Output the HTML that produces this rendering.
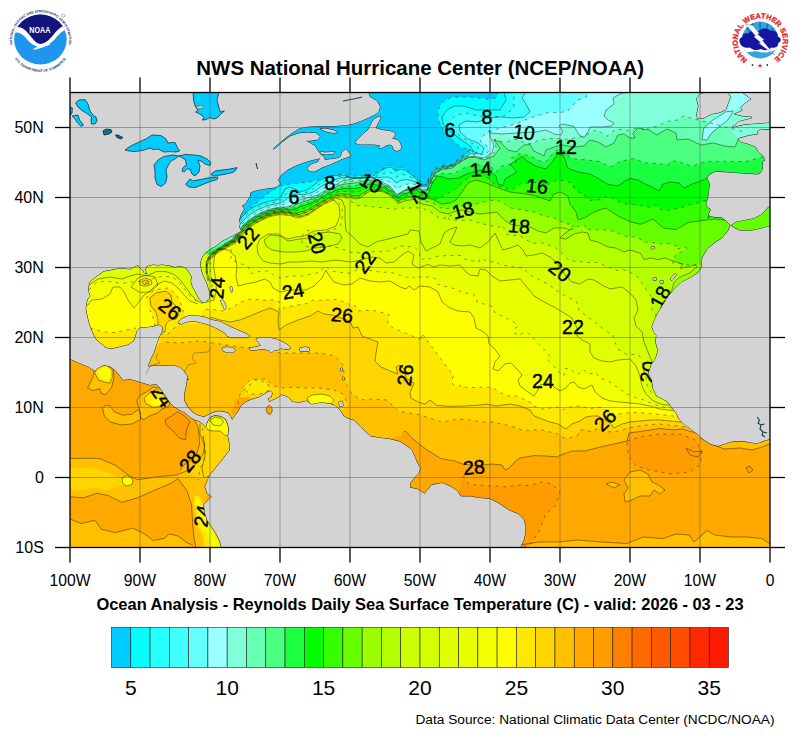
<!DOCTYPE html>
<html><head><meta charset="utf-8"><title>SST</title>
<style>
html,body{margin:0;padding:0;background:#fff;}
body{width:800px;height:737px;overflow:hidden;}
svg{display:block;font-family:"Liberation Sans",sans-serif;}
</style></head><body>
<svg width="800" height="737" viewBox="0 0 800 737">
<rect width="800" height="737" fill="#fff"/>
<defs><clipPath id="mapclip"><rect x="70.0" y="92.5" width="700.0" height="455.0"/></clipPath></defs>
<g clip-path="url(#mapclip)">
<rect x="70" y="92" width="701" height="456" fill="#ffd400"/>
<rect x="60" y="85" width="720" height="470" fill="#00ccff"/>
<path d="M20.0 226.0 L236.0 226.0 L239.0 220.0 L250.0 208.0 L260.0 200.0 L270.0 192.0 L280.0 186.0 L290.0 184.0 L300.0 183.0 L310.0 182.0 L320.0 179.0 L330.0 176.0 L342.0 174.0 L354.0 176.0 L366.0 176.0 L374.0 174.0 L382.0 169.0 L390.0 165.0 L396.0 170.0 L402.0 167.0 L408.0 171.0 L414.0 176.0 L420.0 181.0 L426.0 186.0 L430.0 175.0 L436.0 167.0 L444.0 165.0 L452.0 164.0 L458.0 159.0 L466.0 153.0 L470.0 149.0 L462.0 148.0 L452.0 140.0 L444.0 131.0 L438.0 120.0 L438.0 110.0 L442.0 102.0 L452.0 97.0 L470.0 97.0 L488.0 99.0 L496.0 98.0 L498.0 92.0 L498.0 80.0 L820.0 80.0 L820.0 620.0 L20.0 620.0Z" fill="#00ffff"/>
<path d="M20.0 226.0 L236.0 226.0 L238.6 220.7 L242.6 216.4 L246.8 212.2 L251.2 208.4 L256.5 205.8 L261.9 203.4 L267.5 201.7 L273.3 200.3 L279.0 199.2 L282.2 194.6 L284.8 189.3 L289.3 187.0 L294.6 188.9 L299.5 191.9 L305.3 190.6 L310.4 188.0 L314.9 184.2 L319.4 180.5 L324.8 178.1 L330.3 176.0 L336.2 175.5 L342.1 175.0 L347.8 176.4 L353.5 177.9 L359.4 178.0 L365.3 178.0 L371.0 176.7 L376.3 174.3 L381.0 170.8 L386.2 167.9 L391.1 167.1 L395.3 171.3 L400.1 169.3 L405.0 170.0 L409.8 173.5 L414.3 177.3 L418.8 181.0 L423.4 184.8 L426.8 184.7 L428.9 179.1 L431.5 173.9 L435.1 169.2 L440.2 166.9 L446.0 165.7 L451.9 165.0 L456.4 161.3 L461.1 157.7 L465.8 154.1 L470.0 150.0 L474.0 152.0 L470.0 146.0 L460.0 139.0 L450.0 131.0 L443.0 124.0 L442.0 117.0 L447.0 110.0 L454.0 106.0 L464.0 106.0 L476.0 110.0 L488.0 110.0 L500.0 110.0 L506.0 100.0 L504.0 92.0 L504.0 80.0 L820.0 80.0 L820.0 620.0 L20.0 620.0Z" fill="#26ffff"/>
<path d="M20.0 227.2 L236.5 227.2 L239.4 222.2 L243.4 218.0 L247.6 213.9 L252.1 210.3 L257.3 207.6 L262.6 205.3 L268.2 203.6 L273.8 202.2 L279.6 201.1 L283.4 197.7 L286.6 193.3 L290.9 190.6 L296.2 191.5 L301.2 193.4 L306.9 192.2 L312.1 189.8 L316.7 186.3 L321.4 182.7 L326.6 180.3 L332.0 178.0 L337.6 176.9 L343.4 176.3 L349.1 177.1 L354.7 177.9 L360.6 177.9 L366.4 177.8 L372.0 177.3 L377.3 176.0 L382.1 174.0 L387.2 172.5 L391.8 173.0 L395.8 177.2 L400.5 174.8 L405.4 174.8 L410.4 176.9 L415.1 179.7 L419.6 183.3 L424.3 186.0 L427.5 184.5 L429.5 179.1 L432.2 174.0 L435.8 169.5 L441.0 167.3 L446.7 166.2 L452.4 165.1 L457.0 161.5 L461.7 158.1 L466.5 154.8 L471.0 151.5 L478.0 153.0 L478.0 147.0 L470.0 142.0 L460.0 136.0 L452.0 128.0 L450.0 121.0 L456.0 115.0 L466.0 113.0 L478.0 116.0 L490.0 117.0 L504.0 116.0 L514.0 108.0 L514.0 92.0 L514.0 80.0 L820.0 80.0 L820.0 620.0 L20.0 620.0Z" fill="#40ffff"/>
<path d="M20.0 228.5 L237.0 228.5 L240.1 223.7 L244.1 219.6 L248.4 215.6 L253.0 212.3 L258.0 209.5 L263.4 207.3 L268.8 205.4 L274.4 204.1 L280.1 203.1 L284.5 200.8 L288.3 197.3 L292.5 194.1 L297.8 194.2 L303.0 194.9 L308.6 193.7 L313.9 191.6 L318.6 188.3 L323.3 185.0 L328.5 182.5 L333.7 180.0 L339.0 178.3 L344.7 177.5 L350.3 177.7 L356.0 177.9 L361.7 177.7 L367.5 177.5 L373.0 177.8 L378.2 177.7 L383.1 177.2 L388.2 177.1 L392.4 178.9 L396.2 183.1 L400.9 180.4 L405.9 179.5 L410.9 180.4 L415.8 182.1 L420.4 185.5 L425.3 187.1 L428.1 184.4 L430.2 179.1 L432.9 174.0 L436.6 169.7 L441.8 167.6 L447.5 166.6 L453.0 165.3 L457.5 161.8 L462.3 158.5 L467.1 155.5 L472.0 153.0 L482.0 154.0 L484.0 148.0 L478.0 143.0 L468.0 139.0 L460.0 132.0 L459.0 125.0 L466.0 121.0 L478.0 122.0 L487.0 118.0 L500.0 117.0 L512.0 118.0 L524.0 117.0 L530.0 112.0 L526.0 104.0 L522.0 98.0 L526.0 92.0 L526.0 80.0 L820.0 80.0 L820.0 620.0 L20.0 620.0Z" fill="#66ffff"/>
<path d="M20.0 229.8 L237.5 229.8 L240.9 225.2 L244.9 221.1 L249.1 217.3 L253.9 214.2 L258.8 211.4 L264.1 209.2 L269.4 207.2 L275.0 206.0 L280.6 205.0 L285.7 203.9 L290.0 201.3 L294.1 197.7 L299.4 196.8 L304.7 196.4 L310.3 195.3 L315.6 193.4 L320.4 190.3 L325.2 187.2 L330.3 184.7 L335.3 182.1 L340.4 179.7 L346.0 178.8 L351.6 178.3 L357.2 177.9 L362.9 177.6 L368.6 177.3 L374.0 178.3 L379.2 179.4 L384.2 180.4 L389.2 181.7 L393.0 184.8 L396.7 189.0 L401.4 186.0 L406.3 184.3 L411.5 183.8 L416.6 184.5 L421.2 187.8 L426.3 188.2 L428.7 184.3 L430.9 179.0 L433.6 174.0 L437.3 170.0 L442.6 167.9 L448.2 167.0 L453.5 165.4 L458.1 162.0 L462.8 158.9 L467.8 156.1 L473.0 154.5 L486.0 155.0 L489.0 150.0 L486.0 145.0 L480.0 141.0 L484.0 135.0 L492.0 131.0 L500.0 128.0 L515.0 124.0 L530.0 118.0 L540.0 115.0 L550.0 112.0 L558.0 113.0 L568.0 111.0 L572.0 106.0 L578.0 100.0 L586.0 97.0 L588.0 92.0 L588.0 80.0 L820.0 80.0 L820.0 620.0 L20.0 620.0Z" fill="#99ffff"/>
<path d="M20.0 231.0 L238.0 231.0 L241.6 226.7 L245.6 222.7 L249.9 219.1 L254.8 216.1 L259.6 213.2 L264.8 211.1 L270.1 209.0 L275.6 207.9 L281.2 207.0 L286.8 207.0 L291.7 205.3 L295.7 201.3 L301.1 199.5 L306.5 197.9 L312.0 196.8 L317.4 195.2 L322.2 192.3 L327.1 189.5 L332.1 186.9 L337.0 184.1 L341.8 181.1 L347.3 180.0 L352.9 179.0 L358.4 178.0 L364.1 177.5 L369.7 177.0 L375.0 178.9 L380.2 181.1 L385.2 183.6 L390.2 186.3 L393.7 190.7 L397.2 194.9 L401.8 191.6 L406.8 189.1 L412.1 187.3 L417.3 186.9 L422.0 190.0 L427.2 189.4 L429.3 184.2 L431.6 179.0 L434.3 174.0 L438.0 170.2 L443.3 168.3 L448.9 167.4 L454.0 165.5 L458.6 162.3 L463.4 159.2 L468.4 156.8 L474.0 156.0 L484.0 158.0 L492.0 153.0 L494.0 145.0 L490.0 137.0 L489.0 130.0 L490.0 133.0 L502.0 134.0 L516.0 133.0 L536.0 132.0 L546.0 130.0 L554.0 134.0 L561.0 135.0 L563.0 131.0 L559.0 126.0 L562.0 124.0 L574.0 126.4 L579.0 135.0 L584.0 137.6 L588.0 132.0 L590.0 127.0 L602.0 127.0 L612.0 126.0 L614.0 123.0 L608.0 120.0 L604.0 116.0 L606.0 110.0 L614.0 104.0 L613.0 98.0 L620.0 94.0 L628.0 92.0 L628.0 80.0 L820.0 80.0 L820.0 620.0 L20.0 620.0Z" fill="#80ffd9"/>
<path d="M20.0 238.6 L232.6 238.6 L238.2 231.4 L242.8 226.0 L248.0 221.3 L253.8 217.3 L259.9 213.8 L266.4 211.0 L273.1 208.9 L280.1 207.8 L287.1 207.6 L293.4 205.1 L299.4 201.5 L306.2 199.5 L313.0 197.8 L319.5 195.0 L325.5 191.4 L331.8 188.3 L338.0 184.9 L344.5 182.3 L351.5 181.3 L358.5 180.2 L365.5 179.2 L372.4 179.3 L379.0 181.7 L385.4 184.7 L391.2 188.5 L395.5 194.0 L400.7 193.3 L406.9 190.0 L413.6 187.8 L419.7 189.5 L426.3 191.0 L429.4 185.1 L432.3 178.7 L435.7 172.5 L442.0 169.7 L448.9 168.4 L455.2 165.7 L461.0 161.7 L467.0 158.0 L474.0 157.0 L484.0 159.0 L489.2 156.5 L493.8 153.2 L496.5 148.2 L494.7 143.2 L493.8 139.9 L495.9 139.2 L498.1 139.8 L502.8 142.2 L508.1 141.6 L513.0 139.5 L518.7 139.3 L522.9 142.0 L528.2 143.4 L533.2 143.5 L537.4 140.8 L543.0 139.6 L548.7 138.6 L554.4 138.4 L560.1 138.5 L565.6 139.3 L570.7 138.8 L575.8 137.6 L580.4 136.9 L582.1 136.7 L585.5 134.8 L590.4 133.0 L594.3 130.5 L599.6 131.0 L603.6 135.0 L607.3 136.1 L609.7 134.0 L613.9 130.8 L618.3 129.2 L623.1 129.8 L628.4 130.4 L633.8 128.7 L639.2 128.5 L644.3 129.6 L644.8 131.0 L646.0 129.6 L647.5 128.3 L651.0 127.4 L655.6 126.5 L660.9 124.5 L664.8 122.5 L668.5 121.4 L673.9 120.6 L679.3 119.7 L683.0 116.0 L745.0 132.0 L810.0 132.0 L820.0 132.0 L820.0 620.0 L20.0 620.0Z" fill="#66ffb3"/>
<path d="M20.0 244.0 L224.0 244.0 L233.0 239.0 L238.4 231.7 L241.2 228.4 L244.1 225.2 L247.4 222.4 L250.8 219.7 L254.5 217.5 L258.2 215.3 L262.0 213.3 L266.0 211.7 L270.1 210.2 L274.3 209.2 L278.5 208.4 L282.8 208.2 L287.1 208.3 L291.2 207.9 L294.5 205.7 L298.0 203.5 L302.1 202.3 L306.2 201.0 L310.3 199.7 L314.4 198.6 L318.3 196.8 L322.0 194.6 L325.7 192.4 L329.6 190.5 L333.5 188.6 L337.3 186.6 L341.0 184.9 L345.1 184.0 L349.3 183.6 L353.6 183.2 L357.7 182.5 L361.9 181.6 L366.0 180.8 L370.1 180.1 L374.2 181.3 L378.3 182.5 L382.3 184.1 L386.1 186.1 L390.0 188.0 L397.0 196.0 L404.0 191.0 L410.0 189.0 L416.0 187.0 L422.0 191.0 L427.0 191.0 L431.0 181.0 L436.0 172.0 L444.0 169.0 L452.0 168.0 L459.0 163.0 L467.0 158.0 L474.0 157.0 L484.0 160.0 L494.0 156.0 L500.0 148.0 L494.0 140.0 L500.0 142.0 L508.0 150.0 L516.0 152.0 L524.0 145.0 L530.0 144.4 L534.0 151.0 L544.0 156.0 L546.0 150.0 L554.0 147.0 L562.0 145.0 L574.0 147.0 L584.0 146.0 L590.0 140.0 L598.0 142.0 L606.0 147.0 L614.0 143.0 L618.0 135.0 L624.0 134.0 L630.0 138.0 L635.0 138.0 L633.0 133.0 L638.0 128.0 L649.0 130.0 L657.0 135.0 L667.0 129.0 L676.0 133.0 L677.0 140.0 L688.0 139.0 L701.0 145.0 L713.5 143.0 L724.0 146.0 L735.0 147.0 L738.0 140.0 L760.0 138.0 L810.0 138.0 L820.0 138.0 L820.0 620.0 L20.0 620.0Z" fill="#4dff80"/>
<path d="M20.0 249.4 L216.4 249.4 L218.2 248.2 L219.9 246.9 L222.2 245.7 L224.4 244.4 L228.9 241.9 L233.4 239.4 L236.0 235.8 L238.7 232.1 L241.5 228.9 L244.4 225.7 L247.7 223.0 L251.1 220.2 L254.8 218.0 L258.5 215.9 L262.4 213.9 L266.3 212.3 L270.4 210.8 L274.6 209.9 L278.8 209.1 L283.1 208.9 L287.4 209.1 L291.5 208.9 L294.1 207.8 L297.6 205.9 L302.6 204.1 L306.7 202.7 L310.7 201.3 L314.7 199.9 L318.5 198.1 L322.2 195.9 L325.9 193.7 L329.8 191.8 L333.7 190.0 L337.5 188.1 L341.4 186.8 L345.5 186.2 L349.7 186.0 L353.9 185.9 L358.0 185.2 L362.0 184.1 L366.0 183.0 L370.1 182.0 L374.2 183.0 L378.3 184.0 L383.2 185.9 L387.1 187.8 L390.5 189.8 L394.2 194.0 L397.0 197.0 L400.1 195.0 L403.3 193.0 L410.5 190.5 L417.2 189.0 L422.0 192.5 L427.5 192.5 L429.1 188.6 L430.9 183.9 L433.6 179.0 L435.7 175.5 L441.9 173.6 L447.6 173.8 L452.5 173.2 L455.0 173.0 L458.6 171.0 L463.7 168.1 L467.2 166.6 L477.3 164.9 L481.2 164.8 L484.5 165.5 L487.7 165.7 L492.1 167.1 L492.6 169.1 L493.1 171.1 L497.1 171.4 L499.5 167.5 L501.5 166.3 L514.5 163.2 L516.5 162.0 L514.8 160.1 L511.4 157.8 L515.0 156.9 L517.0 155.5 L519.6 153.7 L530.5 156.0 L534.2 158.1 L538.6 160.5 L542.5 161.8 L545.0 162.5 L546.8 160.5 L548.5 158.5 L554.0 152.4 L556.8 150.1 L565.2 151.1 L566.6 153.1 L568.0 155.2 L569.3 157.2 L573.4 158.5 L576.8 159.4 L580.5 159.6 L585.0 159.7 L587.0 160.0 L600.0 161.6 L602.0 162.7 L604.5 164.2 L607.0 165.7 L609.5 166.1 L612.0 166.5 L614.0 165.1 L617.6 162.9 L621.2 161.1 L633.7 158.6 L636.5 159.0 L638.2 160.0 L640.0 161.0 L643.5 162.5 L666.2 164.5 L668.0 165.5 L669.0 163.8 L670.0 162.0 L673.5 161.0 L675.8 161.2 L678.0 161.5 L692.5 166.5 L694.5 165.5 L696.5 164.5 L698.8 163.8 L701.0 163.0 L705.3 161.4 L716.7 161.4 L720.4 161.6 L722.6 161.4 L727.2 161.4 L731.7 161.4 L734.5 161.5 L736.5 161.5 L738.5 161.5 L740.5 161.5 L742.5 161.5 L744.5 161.5 L746.5 161.5 L761.8 157.0 L766.0 157.0 L770.3 157.0 L773.8 157.0 L778.1 157.0 L782.4 157.0 L785.9 157.0 L790.2 157.0 L793.7 157.0 L797.9 157.0 L802.2 157.0 L805.7 157.0 L810.0 157.0 L820.0 157.0 L820.0 620.0 L20.0 620.0Z" fill="#1aff40"/>
<path d="M20.0 254.8 L208.8 254.8 L215.8 249.8 L224.8 244.8 L233.8 239.8 L238.9 232.6 L241.8 229.4 L244.7 226.2 L248.0 223.5 L251.4 220.8 L255.1 218.6 L258.8 216.4 L262.7 214.5 L266.6 212.9 L270.7 211.4 L274.9 210.5 L279.1 209.7 L283.4 209.7 L287.7 209.9 L291.8 209.9 L295.3 208.8 L299.0 207.1 L303.1 205.9 L307.1 204.5 L311.1 202.9 L315.0 201.3 L318.8 199.4 L322.4 197.1 L326.2 194.9 L330.0 193.1 L334.0 191.3 L337.8 189.6 L341.7 188.7 L345.8 188.3 L350.0 188.4 L354.2 188.5 L358.3 187.9 L362.2 186.6 L366.1 185.2 L370.0 183.9 L374.1 184.6 L378.3 185.5 L382.3 186.6 L386.1 188.6 L390.0 190.5 L397.0 198.0 L404.0 194.0 L411.0 192.0 L417.0 190.0 L422.0 194.0 L428.0 194.0 L432.0 184.0 L437.0 176.0 L443.0 177.0 L448.0 179.0 L458.0 178.0 L467.0 174.0 L480.0 170.0 L490.0 172.0 L496.0 176.0 L498.0 184.0 L503.0 185.6 L505.0 179.0 L517.0 172.0 L510.0 164.4 L522.0 156.4 L527.0 161.0 L536.0 166.4 L546.0 169.0 L553.0 161.0 L558.0 153.6 L564.0 156.4 L567.6 168.0 L578.0 172.0 L590.0 174.0 L598.0 178.4 L608.0 184.4 L618.0 186.0 L626.0 180.4 L630.0 178.4 L638.0 180.0 L645.0 184.0 L652.0 187.0 L659.0 191.0 L663.0 184.0 L670.0 182.0 L679.0 183.0 L684.0 188.0 L692.0 184.0 L701.0 181.0 L708.0 178.0 L730.0 176.0 L810.0 176.0 L820.0 176.0 L820.0 620.0 L20.0 620.0Z" fill="#00ff00"/>
<path d="M20.0 258.8 L207.3 258.8 L208.3 257.0 L209.3 255.3 L213.1 252.5 L216.3 250.3 L220.8 247.8 L225.3 245.3 L229.8 242.8 L234.3 240.3 L236.5 237.1 L239.2 233.2 L242.2 230.0 L245.2 227.0 L248.4 224.2 L251.8 221.5 L255.5 219.4 L259.3 217.2 L263.1 215.4 L267.1 213.7 L271.1 212.2 L275.3 211.4 L279.5 210.6 L283.8 210.7 L288.1 211.0 L292.2 211.4 L295.9 211.0 L299.7 209.6 L303.8 208.4 L307.8 206.9 L311.6 205.0 L315.4 203.2 L319.1 201.1 L321.8 199.4 L325.5 197.3 L330.4 195.0 L334.3 193.2 L338.2 191.7 L342.2 191.4 L347.4 191.4 L351.5 191.8 L354.6 192.3 L358.6 191.8 L361.4 190.4 L365.2 188.6 L368.9 186.9 L374.0 187.0 L378.2 187.6 L383.3 188.9 L387.1 190.8 L390.6 192.9 L394.9 197.1 L397.5 199.5 L400.9 197.7 L405.9 195.2 L409.6 194.5 L413.2 193.8 L421.0 195.5 L423.8 195.8 L428.0 196.0 L431.0 197.0 L433.0 198.0 L435.0 199.0 L437.0 198.8 L439.0 198.5 L455.3 189.2 L458.5 187.0 L460.0 185.0 L463.0 182.1 L466.0 179.2 L470.9 177.3 L475.1 175.9 L482.2 176.1 L489.5 178.5 L494.5 184.5 L497.0 185.5 L501.0 186.9 L504.2 188.0 L506.5 188.8 L508.5 189.1 L510.5 189.3 L512.5 189.6 L520.2 183.8 L524.0 183.5 L539.3 182.1 L543.3 183.3 L545.7 184.2 L548.0 185.0 L549.0 183.2 L550.0 181.5 L564.5 180.3 L568.8 182.1 L573.0 184.0 L573.5 186.0 L574.0 188.0 L576.2 190.1 L579.2 192.4 L588.2 197.6 L590.1 200.5 L592.9 200.2 L596.3 200.3 L599.0 199.4 L601.0 198.2 L603.0 197.5 L605.0 196.9 L607.8 196.3 L612.3 198.1 L616.0 199.7 L618.0 201.0 L620.0 201.9 L622.0 202.9 L624.0 203.8 L645.0 205.8 L649.8 207.7 L651.9 206.8 L653.9 205.9 L656.0 205.0 L657.8 206.5 L659.5 208.0 L661.2 209.5 L663.3 209.8 L665.4 210.0 L667.5 210.3 L682.0 207.6 L684.0 206.5 L686.0 205.3 L688.1 205.0 L690.2 204.7 L692.2 204.4 L697.0 202.9 L704.0 200.8 L707.9 200.0 L717.9 198.4 L722.8 198.4 L728.7 200.4 L734.4 198.8 L737.9 197.4 L742.0 196.0 L745.3 195.0 L749.3 194.0 L752.6 193.0 L755.8 192.0 L759.8 191.0 L763.1 190.0 L766.4 189.0 L769.6 188.0 L773.9 187.8 L778.2 187.5 L781.7 187.2 L785.9 187.0 L790.2 186.8 L793.7 186.5 L798.0 186.2 L802.2 186.0 L805.7 185.8 L810.0 185.5 L820.0 185.5 L820.0 620.0 L20.0 620.0Z" fill="#33ff00"/>
<path d="M20.0 262.7 L205.7 262.7 L209.7 255.7 L216.7 250.7 L225.7 245.7 L234.7 240.7 L239.6 233.8 L242.6 230.7 L245.6 227.7 L248.9 224.9 L252.2 222.3 L256.0 220.1 L259.7 218.0 L263.5 216.2 L267.5 214.5 L271.5 213.1 L275.7 212.3 L279.9 211.5 L284.2 211.8 L288.5 212.1 L292.6 212.8 L296.4 213.2 L300.4 212.2 L304.5 210.9 L308.4 209.4 L312.1 207.2 L315.7 205.1 L319.4 202.9 L323.0 200.6 L326.7 198.5 L330.7 196.8 L334.6 195.1 L338.6 193.8 L342.6 194.0 L346.8 194.4 L350.9 195.2 L355.1 196.0 L359.0 195.6 L362.6 193.5 L366.2 191.3 L369.8 189.2 L373.9 189.3 L378.2 189.6 L382.3 190.2 L386.2 192.1 L390.0 194.0 L398.0 201.0 L406.0 197.0 L414.0 196.0 L420.0 197.0 L428.0 198.0 L434.0 200.0 L442.0 204.0 L450.0 203.0 L456.0 200.0 L462.0 192.0 L468.0 183.0 L476.0 180.0 L486.0 183.0 L496.0 187.0 L510.0 192.0 L526.0 194.0 L536.0 196.0 L550.0 201.0 L554.0 194.0 L560.0 192.0 L568.0 196.0 L570.0 204.0 L576.0 212.0 L578.0 220.0 L586.0 217.0 L594.0 212.0 L606.0 208.0 L618.0 216.0 L630.0 221.7 L640.6 224.3 L653.0 219.0 L663.5 228.0 L676.0 229.6 L688.0 222.6 L700.5 220.8 L714.7 219.0 L725.0 220.0 L730.5 224.5 L742.0 216.0 L770.0 200.0 L810.0 195.0 L820.0 195.0 L820.0 620.0 L20.0 620.0Z" fill="#66ff00"/>
<path d="M20.0 267.6 L206.1 267.6 L206.1 265.4 L206.1 263.1 L207.9 259.9 L210.1 256.1 L213.9 253.3 L217.1 251.1 L221.6 248.6 L226.1 246.1 L230.6 243.6 L235.1 241.1 L237.2 237.9 L239.7 234.0 L242.7 231.0 L245.7 227.9 L249.0 225.2 L252.4 222.5 L256.1 220.4 L259.8 218.3 L263.7 216.5 L267.6 214.8 L271.7 213.4 L275.9 212.6 L280.1 211.8 L284.3 212.2 L288.6 212.5 L292.7 213.3 L296.7 214.0 L300.7 213.1 L304.8 211.9 L308.7 210.3 L312.3 208.0 L315.9 205.8 L319.5 203.5 L323.1 201.3 L326.9 199.2 L330.8 197.5 L334.7 195.8 L338.7 194.6 L342.8 195.0 L347.0 195.5 L351.1 196.4 L355.2 197.4 L359.1 197.0 L361.8 195.3 L365.3 193.0 L368.8 190.7 L373.9 190.2 L378.2 190.4 L382.3 190.8 L386.2 192.7 L390.6 195.1 L394.3 198.7 L398.0 202.2 L401.6 200.7 L405.2 199.2 L409.6 198.3 L414.0 197.8 L418.2 199.2 L422.6 200.7 L428.2 201.8 L433.0 203.0 L437.4 205.7 L441.0 208.0 L443.8 208.4 L447.4 208.7 L451.0 207.8 L453.8 206.6 L459.5 205.0 L463.0 206.0 L466.0 205.8 L469.0 205.7 L490.5 200.2 L494.6 200.6 L501.2 201.2 L506.0 205.0 L508.0 206.5 L511.6 208.2 L517.3 209.1 L522.2 209.9 L528.0 210.8 L535.3 212.3 L539.7 214.2 L543.2 215.7 L546.0 216.5 L548.0 217.0 L550.0 215.8 L566.0 224.0 L568.5 224.0 L571.0 224.0 L574.0 225.0 L571.0 227.0 L569.0 229.0 L572.0 229.5 L574.0 228.2 L576.0 227.0 L578.0 226.5 L580.0 226.0 L585.4 225.6 L585.6 229.4 L589.2 229.3 L592.0 229.5 L610.5 230.2 L615.2 232.6 L618.8 233.5 L622.2 234.5 L625.0 235.8 L627.8 237.0 L633.0 236.6 L638.0 238.0 L640.6 238.9 L642.3 242.0 L657.2 242.9 L660.8 243.8 L666.6 243.2 L671.2 244.4 L675.0 245.5 L677.2 246.1 L679.5 246.8 L678.0 249.0 L680.0 248.6 L682.0 248.1 L685.5 247.3 L686.5 248.1 L684.8 249.7 L683.0 251.2 L680.4 252.3 L677.7 253.4 L675.0 256.1 L674.0 259.6 L672.4 262.7 L674.6 263.0 L676.9 263.3 L679.1 263.6 L681.3 263.9 L683.5 264.2 L685.8 264.5 L688.0 264.8 L690.0 264.8 L692.1 264.8 L721.4 262.2 L723.4 262.2 L725.4 262.2 L727.5 262.2 L729.5 262.2 L731.5 262.2 L733.6 262.2 L735.6 262.2 L737.7 262.2 L739.7 262.2 L741.7 262.2 L743.8 262.2 L745.8 262.2 L747.8 262.2 L749.9 262.2 L751.9 262.2 L754.0 262.2 L756.0 262.2 L758.0 262.2 L761.3 261.3 L764.7 260.4 L772.6 256.5 L776.6 255.3 L799.5 248.6 L803.8 248.3 L820.0 248.3 L820.0 620.0 L20.0 620.0Z" fill="#99ff00"/>
<path d="M20.0 272.5 L206.5 272.5 L206.5 263.5 L210.5 256.5 L217.5 251.5 L226.5 246.5 L235.5 241.5 L239.9 234.3 L242.9 231.2 L245.9 228.2 L249.2 225.4 L252.5 222.8 L256.3 220.7 L260.0 218.6 L263.9 216.8 L267.8 215.1 L271.8 213.8 L276.0 212.9 L280.2 212.2 L284.5 212.5 L288.7 212.9 L292.9 213.9 L296.9 214.8 L300.9 214.0 L305.0 212.8 L308.9 211.2 L312.5 208.8 L316.0 206.5 L319.6 204.2 L323.3 201.9 L327.0 199.8 L330.9 198.2 L334.9 196.5 L338.8 195.4 L343.0 196.0 L347.2 196.7 L351.3 197.7 L355.4 198.8 L359.2 198.4 L362.7 196.0 L366.2 193.6 L369.7 191.2 L373.9 191.1 L378.1 191.2 L382.3 191.5 L386.2 193.4 L390.0 195.3 L398.0 203.5 L406.0 200.5 L414.0 199.5 L422.0 204.0 L432.0 206.0 L440.0 212.0 L448.0 214.0 L456.0 211.0 L463.0 210.0 L470.0 212.0 L480.0 214.0 L490.0 213.0 L497.0 212.0 L502.0 218.0 L510.0 224.0 L520.0 226.0 L530.0 227.0 L538.0 231.0 L546.0 233.0 L554.0 228.0 L564.0 228.0 L570.0 230.0 L564.0 234.0 L560.0 238.0 L566.0 239.0 L574.0 234.0 L582.0 232.0 L588.0 233.0 L590.0 240.0 L598.0 242.0 L608.0 247.0 L616.0 248.0 L624.0 252.0 L630.0 250.0 L640.6 253.4 L644.0 259.6 L651.0 257.9 L658.0 259.6 L665.0 257.9 L674.0 261.4 L683.0 264.0 L680.0 268.4 L688.0 266.7 L695.0 265.0 L697.0 266.7 L690.0 272.8 L679.4 277.3 L674.0 282.5 L672.0 289.6 L668.8 295.8 L700.0 300.0 L810.0 300.0 L820.0 300.0 L820.0 620.0 L20.0 620.0Z" fill="#b3ff00"/>
<path d="M20.0 274.0 L207.1 274.0 L206.9 273.3 L206.6 272.6 L206.6 269.4 L206.6 264.9 L208.3 260.7 L210.6 256.6 L214.7 253.7 L217.6 251.6 L222.1 249.1 L226.6 246.6 L231.1 244.1 L235.6 241.6 L237.4 238.6 L239.9 234.4 L242.9 231.3 L246.0 228.3 L249.3 225.6 L252.6 222.9 L256.4 220.9 L260.1 218.8 L264.0 217.0 L267.9 215.2 L271.9 213.9 L276.1 213.1 L280.3 212.3 L284.6 212.7 L288.8 213.1 L292.9 214.0 L297.0 215.1 L301.0 214.3 L305.1 213.0 L309.0 211.4 L312.6 209.1 L316.1 206.7 L319.7 204.4 L323.3 202.1 L327.0 200.0 L331.0 198.4 L334.9 196.7 L342.8 196.6 L344.8 197.5 L346.8 198.4 L348.6 199.4 L348.6 200.0 L350.3 201.0 L352.2 202.3 L354.0 203.6 L354.9 204.4 L355.5 205.0 L356.1 205.6 L360.0 205.5 L360.6 205.7 L361.2 205.3 L394.7 209.3 L395.3 209.1 L395.9 209.0 L396.5 208.8 L397.1 208.7 L397.7 208.5 L398.3 208.4 L398.9 208.2 L399.5 208.1 L420.2 207.9 L420.9 208.0 L423.0 208.3 L435.9 214.8 L437.2 216.5 L437.5 217.2 L437.9 217.8 L440.2 217.7 L443.5 218.1 L446.8 218.5 L447.1 217.7 L447.4 216.9 L448.3 216.2 L452.3 215.4 L449.0 217.4 L448.6 217.8 L448.3 218.2 L449.0 219.3 L449.9 220.0 L452.2 220.2 L471.6 220.2 L475.0 221.3 L478.6 222.9 L480.0 224.2 L482.4 223.8 L499.0 227.5 L500.0 226.3 L501.0 224.9 L503.2 227.6 L505.4 230.4 L506.0 232.0 L507.1 234.8 L512.8 235.3 L516.3 235.5 L519.0 235.3 L524.0 238.2 L532.0 243.5 L534.0 243.2 L536.8 243.2 L540.4 243.1 L544.0 243.0 L546.0 244.0 L555.0 247.5 L558.0 250.0 L562.2 253.4 L564.5 255.5 L566.0 257.5 L567.5 259.0 L569.0 260.5 L571.0 261.0 L585.8 262.2 L593.1 262.8 L596.6 262.3 L601.0 263.5 L603.0 264.8 L605.0 266.0 L615.0 269.5 L617.0 270.5 L619.0 270.2 L621.0 269.8 L623.0 269.5 L635.0 274.8 L637.0 276.3 L650.9 296.1 L652.4 297.9 L652.9 300.4 L653.4 302.9 L652.4 304.9 L651.4 306.9 L651.9 308.9 L652.4 310.9 L653.9 312.4 L655.4 313.9 L655.9 316.4 L656.4 318.9 L657.4 321.4 L658.4 323.9 L659.4 326.4 L660.4 328.9 L659.9 331.4 L659.4 333.9 L660.1 335.9 L660.9 337.9 L660.4 340.9 L662.4 342.4 L666.7 344.2 L670.3 344.6 L674.6 345.0 L678.2 345.4 L682.5 345.9 L686.1 346.2 L690.4 346.7 L694.0 347.1 L696.0 347.2 L698.0 347.4 L700.0 347.5 L704.3 347.5 L707.8 347.5 L712.1 347.5 L716.4 347.5 L720.7 347.5 L724.3 347.5 L728.6 347.5 L732.9 347.5 L736.4 347.5 L740.7 347.5 L745.0 347.5 L748.6 347.5 L752.9 347.5 L757.1 347.5 L761.4 347.5 L765.0 347.5 L769.3 347.5 L773.6 347.5 L777.1 347.5 L781.4 347.5 L785.7 347.5 L789.3 347.5 L793.6 347.5 L797.9 347.5 L802.2 347.5 L805.7 347.5 L810.0 347.5 L820.0 347.5 L820.0 620.0 L20.0 620.0Z" fill="#ccff00"/>
<path d="M20.0 282.4 L210.4 282.4 L207.4 273.4 L207.4 264.4 L211.4 257.4 L218.4 252.4 L227.4 247.4 L236.4 242.4 L240.4 235.1 L243.4 232.1 L246.5 229.1 L249.7 226.3 L253.1 223.7 L256.8 221.6 L260.6 219.6 L264.4 217.7 L268.4 216.0 L272.4 214.7 L276.6 213.9 L280.8 213.1 L285.0 213.6 L289.3 214.0 L293.4 215.0 L297.5 216.3 L301.6 215.6 L305.7 214.4 L309.6 212.8 L313.1 210.3 L316.6 207.9 L320.1 205.5 L323.8 203.2 L327.5 201.1 L331.4 199.5 L335.4 197.9 L342.0 200.0 L345.0 208.0 L345.0 220.0 L346.0 231.0 L352.0 236.0 L360.0 244.0 L368.0 247.0 L376.0 242.0 L388.0 239.0 L400.0 236.0 L408.0 234.0 L410.0 230.0 L419.0 231.0 L421.0 242.0 L426.0 251.0 L432.0 248.0 L440.0 244.0 L444.0 233.0 L450.0 229.0 L457.0 227.0 L454.0 234.0 L450.0 242.0 L454.0 245.0 L462.0 246.0 L470.0 245.0 L480.0 248.0 L488.0 242.0 L495.0 233.0 L500.0 244.0 L503.0 250.0 L510.0 248.0 L518.0 245.0 L523.0 250.0 L526.0 256.0 L534.0 255.0 L542.0 253.0 L550.0 257.0 L556.0 262.0 L560.0 268.0 L566.0 276.0 L572.0 282.0 L580.0 284.0 L588.0 279.0 L594.0 280.0 L602.0 285.0 L610.0 289.0 L622.0 287.0 L630.0 293.0 L636.0 300.0 L638.0 310.0 L634.0 318.0 L636.0 326.0 L642.0 332.0 L644.0 342.0 L648.0 352.0 L652.0 362.0 L650.0 372.0 L653.0 380.0 L652.0 386.0 L660.0 392.0 L700.0 395.0 L810.0 395.0 L820.0 395.0 L820.0 620.0 L20.0 620.0Z" fill="#d4ff00"/>
<path d="M20.0 280.9 L208.9 280.9 L207.7 276.2 L206.7 270.7 L206.8 266.2 L207.3 262.5 L210.9 256.4 L214.8 253.7 L217.9 251.4 L222.4 248.9 L226.9 246.4 L231.3 243.9 L236.1 240.7 L240.7 235.6 L243.7 232.5 L246.7 229.5 L253.1 224.4 L257.2 222.1 L262.3 219.3 L266.2 217.6 L270.2 215.9 L274.7 214.9 L280.4 213.8 L285.0 214.3 L289.6 214.7 L293.7 215.9 L297.8 217.2 L303.3 215.8 L307.8 214.3 L311.3 212.1 L314.8 209.7 L318.2 207.3 L322.0 204.9 L325.8 202.6 L329.7 200.9 L333.7 199.3 L341.4 205.4 L342.2 211.0 L342.5 215.8 L341.5 220.5 L340.7 225.4 L338.3 227.1 L335.9 228.9 L333.9 229.1 L331.9 229.3 L329.9 229.4 L327.4 231.5 L325.0 233.5 L323.0 233.8 L321.0 234.0 L319.0 234.5 L317.0 235.0 L314.5 233.8 L311.9 230.9 L309.4 230.9 L306.8 230.1 L304.9 233.0 L303.0 235.0 L301.5 238.5 L301.8 240.5 L302.0 242.5 L303.2 244.2 L304.5 246.0 L308.0 247.0 L310.5 247.2 L313.0 247.5 L315.5 247.0 L318.0 246.5 L320.5 246.5 L323.0 246.5 L325.5 246.2 L328.0 246.0 L330.0 246.2 L332.0 246.3 L334.6 247.0 L338.1 247.7 L342.8 249.5 L346.3 250.3 L349.8 251.8 L352.7 252.7 L355.0 253.0 L358.8 252.8 L362.4 252.9 L366.0 253.0 L368.0 252.5 L370.0 252.0 L372.7 251.8 L376.0 251.2 L383.2 251.9 L387.5 251.1 L391.0 250.5 L395.2 248.2 L399.5 245.9 L414.9 247.2 L419.6 252.2 L419.5 255.2 L419.0 257.5 L422.0 259.5 L424.5 258.6 L427.0 257.7 L430.0 259.0 L436.0 256.5 L440.1 255.9 L452.0 255.5 L456.1 255.4 L461.0 255.5 L462.5 257.2 L464.0 259.0 L474.2 261.2 L477.0 261.8 L479.0 262.0 L480.0 258.5 L483.0 259.0 L484.5 260.5 L497.5 263.0 L499.5 264.2 L501.5 265.5 L504.0 265.2 L518.0 268.0 L520.5 267.8 L523.0 267.5 L524.5 269.2 L526.0 271.0 L527.3 272.7 L528.7 274.3 L549.0 284.7 L552.5 287.5 L556.2 290.2 L560.5 293.2 L563.0 294.5 L565.5 296.0 L568.0 297.5 L572.4 299.4 L576.0 301.0 L577.0 303.0 L578.0 305.0 L579.0 307.0 L578.5 310.0 L609.0 333.0 L611.0 334.0 L613.0 335.0 L613.0 337.0 L613.0 339.0 L619.0 350.0 L621.0 350.8 L623.3 352.2 L625.9 353.9 L628.1 354.9 L630.1 354.4 L632.4 354.6 L634.4 354.4 L636.7 355.0 L639.0 355.5 L641.4 359.4 L643.3 367.3 L644.0 371.5 L645.0 374.0 L646.4 378.9 L647.0 386.0 L648.0 388.0 L649.0 390.0 L652.5 393.0 L655.3 395.5 L658.0 397.0 L660.8 398.1 L664.3 398.4 L668.6 398.8 L672.2 399.1 L676.5 399.5 L680.8 399.9 L684.3 400.2 L688.6 400.5 L692.2 400.8 L696.5 401.2 L700.0 401.5 L704.3 401.5 L707.8 401.5 L712.1 401.5 L716.4 401.5 L720.7 401.5 L724.3 401.5 L728.6 401.5 L732.9 401.5 L736.4 401.5 L740.7 401.5 L745.0 401.5 L748.6 401.5 L752.9 401.5 L757.1 401.5 L761.4 401.5 L765.0 401.5 L769.3 401.5 L773.6 401.5 L777.1 401.5 L781.4 401.5 L785.7 401.5 L789.3 401.5 L793.6 401.5 L797.9 401.5 L802.2 401.5 L805.7 401.5 L810.0 401.5 L820.0 401.5 L820.0 620.0 L20.0 620.0Z" fill="#e0ff00"/>
<path d="M20.0 281.0 L208.0 281.0 L206.0 271.0 L206.5 262.0 L210.5 255.5 L217.5 250.5 L226.5 245.5 L235.0 240.5 L241.0 236.0 L247.0 230.0 L253.0 225.0 L262.0 220.0 L270.0 216.5 L280.0 214.5 L290.0 215.5 L298.0 218.0 L308.0 215.0 L318.0 208.0 L326.0 203.0 L334.0 200.0 L339.0 206.0 L340.0 216.0 L336.0 226.0 L326.0 230.0 L314.0 231.0 L304.0 236.0 L296.0 237.0 L288.0 239.0 L278.0 234.0 L268.0 234.0 L260.0 239.0 L257.0 246.0 L258.0 254.0 L263.0 261.0 L270.0 263.0 L280.0 264.0 L290.0 262.0 L300.0 262.0 L310.0 261.0 L322.0 262.0 L336.0 260.0 L350.0 262.0 L356.0 261.0 L372.0 257.0 L380.0 258.0 L386.0 263.0 L394.0 262.0 L402.0 255.0 L408.0 251.0 L414.0 255.0 L412.0 264.0 L418.0 268.0 L428.0 264.4 L434.0 267.0 L440.0 265.0 L450.0 266.0 L460.0 265.0 L466.0 272.0 L470.0 275.0 L478.0 276.0 L480.0 269.0 L486.0 270.0 L492.0 276.0 L500.0 281.0 L510.0 280.0 L520.0 279.0 L526.0 286.0 L534.0 296.0 L544.0 302.0 L554.0 307.0 L564.0 313.0 L572.0 318.0 L578.0 330.0 L577.0 336.0 L582.0 340.0 L590.0 344.0 L590.0 352.0 L594.0 358.0 L602.0 361.0 L610.0 362.0 L618.0 360.0 L630.0 359.0 L636.0 366.0 L640.0 376.0 L642.0 386.0 L646.0 394.0 L652.0 400.0 L660.0 404.0 L668.0 405.0 L700.0 408.0 L810.0 408.0 L820.0 408.0 L820.0 620.0 L20.0 620.0Z" fill="#e8ff00"/>
<path d="M20.0 286.0 L123.0 286.0 L125.0 286.0 L127.1 286.0 L129.1 286.0 L131.1 286.0 L133.1 286.0 L135.3 286.8 L137.4 286.8 L139.5 287.7 L141.6 287.7 L143.8 288.5 L145.8 288.5 L148.0 289.3 L150.0 289.3 L152.2 290.2 L154.2 290.2 L156.4 291.0 L158.5 291.0 L160.5 291.0 L162.5 291.0 L164.5 291.0 L166.6 291.0 L168.6 291.0 L170.6 291.0 L172.6 291.0 L174.7 291.0 L176.7 291.0 L178.7 291.0 L180.8 291.0 L182.8 291.0 L184.8 291.0 L186.8 291.0 L188.9 291.0 L190.9 291.0 L192.9 291.0 L194.9 291.0 L197.0 291.0 L199.0 291.0 L201.0 291.1 L203.0 291.2 L205.0 291.4 L207.0 291.5 L209.0 291.0 L211.0 290.5 L211.6 288.0 L212.2 285.5 L212.1 283.5 L211.9 281.5 L211.6 278.7 L210.9 275.0 L210.1 269.8 L209.9 265.5 L211.4 259.6 L213.9 254.8 L216.4 252.0 L219.0 249.3 L222.8 248.8 L226.5 248.2 L229.0 249.2 L231.5 250.3 L231.2 253.2 L231.8 255.8 L230.0 259.1 L248.5 267.1 L250.0 271.0 L250.5 273.5 L252.5 273.0 L254.5 272.5 L257.0 272.0 L259.5 271.5 L263.5 271.2 L267.5 271.0 L270.8 272.6 L274.0 275.8 L277.4 276.9 L280.0 278.0 L282.5 277.5 L287.5 276.5 L293.7 276.0 L298.2 276.0 L301.0 276.0 L304.7 275.8 L308.3 274.7 L315.0 273.8 L318.5 271.9 L322.0 270.0 L323.0 268.0 L325.6 265.8 L327.3 267.7 L329.6 269.6 L332.7 271.3 L340.6 272.2 L345.4 273.3 L349.0 273.2 L351.0 273.0 L354.5 271.2 L358.0 269.5 L362.9 269.6 L367.0 270.0 L380.5 272.2 L383.0 272.5 L385.5 272.2 L388.8 271.9 L393.7 273.1 L397.0 274.5 L412.0 278.5 L413.5 277.0 L416.0 279.0 L419.0 277.0 L421.5 277.2 L432.0 277.0 L434.0 278.2 L436.0 279.5 L437.0 282.0 L438.0 284.5 L457.3 289.5 L460.0 291.5 L462.0 292.2 L464.0 293.0 L466.0 293.2 L468.0 293.3 L472.4 293.8 L476.0 297.0 L476.5 299.5 L477.0 302.0 L491.0 306.0 L494.0 308.5 L494.2 310.5 L494.5 312.5 L514.0 322.0 L515.5 324.0 L517.7 326.4 L514.5 329.0 L514.2 332.9 L519.6 335.6 L521.3 333.9 L523.8 332.6 L527.5 332.5 L545.5 351.0 L547.0 352.5 L549.5 355.5 L547.5 358.0 L548.5 361.0 L550.5 362.5 L559.0 372.0 L563.5 376.2 L565.0 372.5 L565.0 368.5 L568.0 368.8 L571.0 369.0 L574.5 373.0 L577.0 374.5 L580.0 373.0 L582.0 370.5 L584.0 370.0 L586.0 372.5 L589.8 373.8 L593.4 373.4 L596.2 372.7 L598.5 376.5 L600.2 378.0 L604.4 379.8 L608.0 380.8 L626.0 393.5 L628.9 394.6 L632.2 396.4 L635.1 397.4 L638.0 398.5 L640.5 398.8 L644.2 400.2 L647.9 401.9 L651.0 403.0 L655.9 404.9 L660.0 406.5 L664.4 407.1 L668.0 407.5 L672.3 408.0 L676.6 408.4 L680.1 408.7 L684.4 409.1 L687.9 409.4 L692.2 409.8 L696.5 410.2 L700.0 410.5 L704.3 410.5 L707.8 410.5 L712.1 410.5 L716.4 410.5 L720.7 410.5 L724.3 410.5 L728.6 410.5 L732.9 410.5 L736.4 410.5 L740.7 410.5 L745.0 410.5 L748.6 410.5 L752.9 410.5 L757.1 410.5 L761.4 410.5 L765.0 410.5 L769.3 410.5 L773.6 410.5 L777.1 410.5 L781.4 410.5 L785.7 410.5 L789.3 410.5 L793.6 410.5 L797.9 410.5 L802.2 410.5 L805.7 410.5 L810.0 410.5 L820.0 410.5 L820.0 620.0 L20.0 620.0Z" fill="#f2ff00"/>
<path d="M20.0 301.0 L40.0 301.0 L190.0 301.0 L206.0 302.0 L214.0 300.0 L216.5 290.0 L215.5 278.0 L213.5 266.0 L214.5 256.0 L219.0 249.0 L228.0 250.0 L235.0 256.0 L237.0 266.0 L236.0 276.0 L238.0 286.0 L246.0 284.0 L256.0 282.0 L265.0 279.0 L270.0 282.0 L273.0 288.0 L280.0 292.0 L290.0 290.0 L306.0 290.0 L314.0 286.0 L322.0 278.0 L326.0 270.0 L328.0 274.0 L334.0 282.0 L344.0 285.0 L352.0 284.0 L360.0 278.0 L370.0 281.0 L380.0 282.0 L390.0 281.0 L400.0 287.0 L406.0 289.0 L409.0 286.0 L414.0 290.0 L420.0 286.0 L430.0 287.0 L438.0 292.0 L442.0 302.0 L450.0 308.0 L458.0 311.0 L470.0 312.0 L474.0 318.0 L476.0 328.0 L482.0 331.0 L488.0 336.0 L489.0 344.0 L494.0 348.0 L500.0 356.0 L495.0 362.0 L493.0 369.0 L498.0 371.0 L505.0 364.0 L511.0 363.0 L517.0 369.0 L522.0 375.0 L518.0 380.0 L520.0 386.0 L528.0 392.0 L534.0 396.0 L538.0 390.0 L540.0 385.0 L550.0 383.0 L555.0 388.0 L560.0 391.0 L566.0 388.0 L570.0 383.0 L574.0 382.0 L578.0 387.0 L584.0 389.0 L592.0 385.0 L595.0 392.0 L602.0 398.0 L610.0 401.0 L620.0 402.0 L630.0 403.0 L640.0 404.0 L650.0 406.0 L660.0 409.0 L668.0 410.0 L676.0 411.0 L700.0 413.0 L810.0 413.0 L820.0 413.0 L820.0 620.0 L20.0 620.0Z" fill="#ffff00"/>
<path d="M20.0 315.5 L40.0 315.5 L44.3 315.5 L47.8 315.5 L52.1 315.5 L56.4 315.5 L60.7 315.5 L64.2 315.5 L68.5 315.5 L72.8 315.5 L76.3 315.5 L80.6 315.5 L84.9 315.5 L89.2 315.5 L92.7 315.5 L97.0 315.5 L101.3 315.5 L104.8 315.5 L109.1 315.5 L113.4 315.5 L117.7 315.5 L121.2 315.5 L125.5 315.5 L129.8 315.5 L133.4 315.5 L137.6 315.5 L141.9 315.5 L146.2 315.5 L149.8 315.5 L154.1 314.9 L158.5 314.4 L162.9 313.8 L167.3 313.2 L171.7 312.6 L175.4 312.1 L179.8 311.5 L184.2 310.7 L188.7 309.9 L194.0 309.2 L197.8 308.6 L202.4 307.9 L206.0 308.8 L208.0 309.5 L212.9 309.6 L217.0 310.0 L219.5 310.5 L222.0 311.0 L224.5 310.5 L227.0 310.0 L241.5 302.0 L246.4 300.4 L250.8 299.0 L265.5 300.3 L268.2 299.9 L271.6 299.9 L275.0 300.0 L277.2 301.0 L279.5 302.0 L279.2 304.0 L279.0 306.0 L279.2 308.5 L279.5 311.0 L281.2 309.8 L283.0 308.5 L286.7 307.3 L293.6 305.8 L298.0 305.0 L301.6 304.3 L306.0 303.7 L308.0 303.0 L310.0 301.8 L312.8 300.1 L317.4 300.8 L321.0 300.2 L336.3 299.5 L340.2 300.8 L342.5 301.5 L344.8 302.2 L347.8 302.9 L350.1 306.3 L355.0 305.5 L356.0 307.8 L357.0 310.0 L359.0 310.8 L372.5 310.2 L377.0 311.2 L389.0 314.5 L388.5 317.2 L388.0 320.0 L387.8 322.0 L387.5 324.0 L390.5 326.0 L393.5 328.0 L395.8 329.0 L398.0 330.0 L400.0 330.8 L423.3 340.5 L419.7 335.0 L423.0 335.0 L427.5 339.0 L427.8 341.0 L428.0 343.0 L430.0 344.2 L453.5 376.0 L452.5 378.5 L451.5 381.0 L452.0 383.5 L453.8 384.5 L455.5 385.5 L459.0 386.5 L461.5 384.5 L463.2 385.9 L465.0 387.2 L467.2 387.4 L469.3 387.5 L471.5 387.7 L474.0 387.6 L476.5 387.6 L479.0 387.5 L481.5 387.3 L484.0 387.2 L487.3 387.3 L492.0 387.5 L505.5 395.5 L508.0 396.0 L510.3 395.7 L512.7 395.3 L516.3 396.0 L520.2 397.5 L524.8 399.5 L529.5 402.0 L532.0 403.0 L534.0 406.0 L536.0 406.8 L538.0 407.5 L540.0 408.2 L542.0 409.0 L557.0 407.0 L559.0 407.5 L561.0 408.8 L563.0 410.0 L566.0 407.5 L580.0 405.8 L590.4 409.0 L594.0 407.5 L597.0 407.0 L601.6 407.6 L605.2 409.4 L608.0 410.8 L610.8 412.1 L615.3 414.8 L619.0 414.0 L622.7 413.2 L627.2 412.9 L630.8 412.6 L635.8 412.6 L641.7 412.8 L646.7 413.1 L651.7 413.5 L656.7 414.2 L660.8 414.6 L665.7 415.1 L670.6 415.7 L675.5 416.2 L680.2 416.7 L684.5 417.1 L688.8 417.5 L692.2 417.8 L696.5 418.2 L700.0 418.5 L704.3 418.5 L707.8 418.5 L712.1 418.5 L716.4 418.5 L720.7 418.5 L724.3 418.5 L728.6 418.5 L732.9 418.5 L736.4 418.5 L740.7 418.5 L745.0 418.5 L748.6 418.5 L752.9 418.5 L757.1 418.5 L761.4 418.5 L765.0 418.5 L769.3 418.5 L773.6 418.5 L777.1 418.5 L781.4 418.5 L785.7 418.5 L789.3 418.5 L793.6 418.5 L797.9 418.5 L802.2 418.5 L805.7 418.5 L810.0 418.5 L820.0 418.5 L820.0 620.0 L20.0 620.0Z" fill="#ffe800"/>
<path d="M20.0 330.0 L40.0 330.0 L150.0 330.0 L180.0 322.0 L202.0 314.0 L210.0 317.0 L220.0 320.0 L230.0 322.0 L240.0 320.0 L250.0 316.0 L262.0 311.0 L270.0 308.0 L279.0 312.0 L278.0 320.0 L279.0 330.0 L286.0 325.0 L298.0 320.0 L310.0 316.0 L318.0 311.0 L324.0 314.0 L332.0 315.0 L350.0 321.0 L353.0 328.0 L358.0 327.0 L362.0 336.0 L370.0 339.0 L378.0 342.0 L376.0 353.0 L375.0 361.0 L381.0 367.0 L390.0 371.0 L398.0 374.0 L396.0 367.0 L400.0 365.0 L405.0 370.0 L406.0 378.0 L414.0 383.0 L410.0 393.0 L411.0 398.0 L418.0 402.0 L425.0 404.0 L430.0 400.0 L437.0 405.5 L450.0 406.4 L465.0 406.0 L480.0 405.0 L486.0 404.0 L496.0 406.0 L510.0 404.0 L520.0 406.0 L530.0 410.0 L534.0 416.0 L542.0 419.0 L550.0 422.0 L558.0 424.0 L566.0 429.0 L572.0 424.0 L580.0 421.0 L586.0 417.0 L592.0 416.0 L598.0 416.0 L610.0 423.0 L614.0 428.0 L622.0 424.0 L630.0 422.0 L640.0 421.0 L650.0 420.0 L660.0 420.0 L670.0 421.0 L680.0 422.0 L700.0 424.0 L810.0 424.0 L820.0 424.0 L820.0 620.0 L20.0 620.0Z" fill="#ffd500"/>
<path d="M20.0 345.0 L40.0 345.0 L150.0 345.0 L166.0 342.0 L180.0 343.0 L200.0 341.0 L220.0 344.0 L240.0 347.0 L262.0 349.0 L280.0 353.0 L300.0 353.0 L320.0 353.0 L335.0 356.0 L343.0 365.0 L345.0 380.0 L350.0 392.0 L360.0 400.0 L371.0 399.0 L387.0 400.0 L398.0 411.0 L420.0 415.0 L442.0 422.0 L459.0 419.0 L470.0 420.0 L482.0 422.0 L492.0 422.0 L502.0 424.0 L514.0 427.0 L524.0 431.0 L534.0 430.0 L542.0 430.0 L550.0 432.0 L558.0 434.0 L564.0 438.0 L570.0 438.0 L578.0 435.0 L580.0 430.0 L586.0 430.0 L592.0 432.0 L598.0 428.0 L606.0 432.0 L620.0 431.0 L628.0 428.0 L640.0 426.0 L650.0 424.5 L660.0 424.0 L671.0 425.5 L681.0 426.0 L687.0 427.5 L700.0 429.0 L810.0 429.0 L820.0 429.0 L820.0 620.0 L20.0 620.0Z" fill="#ffc000"/>
<path d="M20.0 352.0 L40.0 352.0 L70.0 352.0 L100.0 362.0 L130.0 366.0 L160.0 372.0 L180.0 385.0 L186.0 402.0 L196.0 414.0 L210.0 420.0 L226.0 420.0 L240.0 422.0 L280.0 412.0 L330.0 420.0 L380.0 442.0 L400.0 436.0 L403.5 432.0 L405.3 431.0 L414.0 440.0 L426.5 449.6 L440.6 458.4 L454.7 461.0 L463.5 464.3 L474.0 465.5 L482.0 465.0 L492.0 464.0 L502.0 465.0 L505.0 470.0 L509.3 468.0 L514.6 462.0 L520.0 458.0 L534.0 455.6 L546.0 456.0 L558.0 457.0 L559.0 455.7 L572.0 451.0 L585.0 451.0 L598.0 447.6 L614.0 444.0 L627.0 441.0 L629.0 433.0 L643.5 431.0 L660.0 428.5 L673.0 430.0 L682.5 429.0 L689.0 431.0 L700.0 434.0 L810.0 436.0 L820.0 436.0 L820.0 620.0 L20.0 620.0Z" fill="#ffa800"/>
<path d="M150.0 255.0 L200.0 262.0 L212.0 290.0 L205.0 304.0 L200.0 318.0 L178.0 324.0 L163.0 327.0 L158.0 345.0 L140.0 372.0 L100.0 360.0 L80.0 330.0 L80.0 275.0 L100.0 262.0Z" fill="#ffff00"/>
<path d="M80.0 262.0 L82.0 308.0 L87.0 306.0 L92.0 300.0 L102.0 299.0 L110.0 294.0 L113.0 287.0 L120.0 287.0 L124.0 292.0 L128.0 300.0 L134.0 308.0 L139.0 302.0 L144.0 295.0 L150.0 291.0 L156.0 285.0 L164.0 281.0 L172.0 283.0 L178.0 288.0 L184.0 295.0 L190.0 301.0 L198.0 304.0 L208.0 303.6 L212.0 300.0 L212.0 255.0 L150.0 250.0Z" fill="#f2ff00"/>
<path d="M80.0 262.0 L84.0 294.0 L89.0 290.0 L96.0 283.0 L106.0 281.0 L118.0 283.0 L128.0 283.0 L136.0 281.0 L146.0 283.0 L154.0 278.0 L164.0 276.0 L174.0 278.0 L180.0 283.0 L186.0 291.0 L192.0 298.0 L200.0 303.6 L208.0 303.6 L212.0 300.0 L212.0 255.0 L150.0 250.0Z" fill="#e8ff00"/>
<path d="M80.0 262.0 L86.0 288.0 L89.0 285.0 L98.0 279.0 L110.0 277.0 L122.0 279.0 L130.0 276.0 L138.0 274.0 L147.0 276.0 L156.0 271.6 L166.0 271.6 L174.0 274.4 L180.0 279.6 L186.0 287.6 L190.6 294.0 L196.0 300.0 L203.0 303.6 L208.0 303.2 L212.0 300.0 L212.0 255.0 L150.0 250.0Z" fill="#e0ff00"/>
<path d="M154.0 270.0 L164.0 268.0 L174.0 270.0 L182.0 273.0 L187.0 280.0 L191.0 287.0 L194.4 292.4 L200.0 299.0 L205.0 302.4 L212.0 300.0 L212.0 255.0 L160.0 255.0Z" fill="#d4ff00"/>
<path d="M146.0 298.0 L154.0 290.0 L168.0 288.0 L176.0 294.0 L182.0 306.0 L184.0 316.0 L190.0 318.0 L200.0 317.0 L210.0 319.0 L214.0 322.0 L198.0 324.0 L182.0 325.0 L174.0 328.0 L168.0 334.0 L156.0 334.0 L154.0 320.0 L150.0 310.0Z" fill="#ffe800"/>
<path d="M150.0 298.0 L156.0 293.0 L166.0 291.0 L171.0 295.0 L172.0 302.0 L178.0 308.0 L179.0 314.0 L176.0 319.0 L170.0 320.0 L166.0 324.0 L165.0 332.0 L158.0 332.0 L158.0 320.0 L156.0 312.0 L151.0 306.0Z" fill="#ffd500"/>
<path d="M90.0 328.0 L102.0 331.6 L114.0 332.6 L126.0 330.0 L136.0 328.0 L139.0 334.0 L136.0 344.0 L122.0 349.0 L106.0 349.0 L94.0 340.0Z" fill="#ffe800"/>
<path d="M139.0 281.0 L145.0 278.0 L151.0 280.0 L152.0 284.0 L146.0 286.4 L140.0 285.0Z" fill="#ffe800"/>
<path d="M142.0 281.6 L145.6 280.0 L149.0 281.6 L148.4 284.0 L144.0 284.4Z" fill="#ffd500"/>
<path d="M238.0 404.0 L240.0 394.0 L246.0 388.0 L256.0 380.0 L266.0 379.0 L274.0 386.0 L284.0 388.0 L294.0 387.0 L306.0 388.0 L320.0 388.0 L334.0 390.0 L343.0 394.0 L348.0 404.0 L342.0 412.0 L310.0 408.0 L270.0 404.0Z" fill="#ffd500"/>
<path d="M242.4 388.0 L250.0 380.0 L258.0 379.0 L268.0 384.0 L270.0 390.0 L260.0 394.0 L250.0 394.0Z" fill="#ffe800"/>
<path d="M307.0 398.0 L312.0 395.0 L322.0 394.0 L330.0 396.0 L334.0 400.0 L330.0 405.0 L318.0 406.0 L310.0 404.0Z" fill="#ffff00"/>
<path d="M235.0 400.0 L240.0 397.0 L250.0 397.6 L252.0 400.0 L244.0 404.0 L240.0 409.0 L237.0 416.0 L231.0 414.0 L233.0 408.0Z" fill="#ffa800"/>
<path d="M165.2 419.6 L171.4 416.1 L177.6 411.7 L184.6 416.1 L189.9 421.4 L186.4 430.2 L185.5 439.9 L179.3 438.1 L172.3 430.2 L166.1 424.9Z" fill="#ff9d00"/>
<path d="M87.6 387.9 L92.9 377.3 L94.7 368.5 L105.3 364.1 L113.2 368.5 L114.1 377.3 L111.5 387.9 L105.3 394.9 L100.9 393.1 L100.0 388.7 L92.9 390.5Z" fill="#ffc000"/>
<path d="M94.7 372.9 L98.2 366.7 L106.2 364.9 L112.0 369.3 L112.3 377.3 L109.7 383.4 L103.5 381.7 L98.2 379.9Z" fill="#ffe800"/>
<path d="M97.3 372.0 L105.3 366.7 L110.6 371.1 L109.7 379.0 L101.8 379.0Z" fill="#ffff00"/>
<path d="M137.0 400.2 L140.6 394.9 L147.6 391.4 L152.9 387.0 L159.9 388.2 L166.1 394.9 L169.7 402.0 L168.8 406.4 L161.7 409.0 L158.2 412.6 L149.4 416.1 L144.1 419.6 L140.6 417.8 L139.7 410.8 L137.9 405.5Z" fill="#ffc000"/>
<path d="M144.1 398.4 L149.4 393.1 L156.4 389.6 L163.5 394.9 L167.9 402.0 L161.7 406.4 L152.9 407.3 L145.8 403.7Z" fill="#ffe800"/>
<path d="M149.4 402.9 L154.7 396.7 L159.9 398.4 L160.8 403.7 L156.4 406.4Z" fill="#ffff00"/>
<path d="M168.8 394.0 L172.3 392.8 L175.5 395.8 L174.1 399.3 L170.5 398.4Z" fill="#ffe800"/>
<path d="M102.6 409.0 L105.3 405.1 L109.7 405.5 L114.1 411.7 L122.9 415.2 L131.7 414.3 L137.9 409.9 L140.6 412.6 L140.6 419.6 L131.7 424.0 L121.2 424.9 L110.6 422.2 L104.4 416.1Z" fill="#ffc000"/>
<path d="M194.0 419.6 L197.6 426.0 L199.0 434.0 L199.6 444.0 L197.0 453.0 L190.0 460.0 L184.0 465.0 L180.0 470.0 L190.0 484.0 L214.0 484.0 L234.0 452.0 L232.0 430.0 L226.0 418.0 L214.0 413.6Z" fill="#ffc000"/>
<path d="M202.4 428.0 L203.0 434.0 L204.4 444.0 L205.6 452.0 L204.0 460.0 L200.0 470.0 L198.0 480.0 L214.0 484.0 L234.0 452.0 L231.0 430.0 L226.0 418.4 L214.0 414.0 L206.0 420.0Z" fill="#ffd500"/>
<path d="M200.0 424.0 L206.0 422.0 L209.0 417.0 L214.0 414.4 L221.0 415.6 L226.0 419.0 L229.0 424.0 L230.0 434.0 L231.0 444.0 L230.0 452.0 L224.0 460.0 L218.0 468.0 L210.0 476.0 L204.0 478.0 L202.0 468.0 L205.0 456.0 L204.0 444.0 L200.0 434.0Z" fill="#ffd500"/>
<path d="M205.0 426.0 L209.0 419.0 L214.0 415.6 L221.0 416.4 L225.6 419.6 L228.0 425.0 L229.0 434.0 L226.0 436.0 L220.0 431.0 L214.0 431.0 L208.0 430.0Z" fill="#ffff00"/>
<path d="M210.0 420.0 L215.0 417.0 L221.0 418.4 L223.6 422.0 L220.0 426.0 L213.0 425.0Z" fill="#f2ff00"/>
<path d="M67.8 458.4 L99.2 458.4 L115.0 465.1 L128.5 475.2 L137.5 479.8 L160.0 476.4 L175.8 475.2 L187.0 470.8 L196.0 464.0 L202.8 455.0 L205.0 446.0 L202.8 437.0 L214.0 434.8 L227.5 450.5 L223.0 457.2 L216.3 466.2 L209.5 473.0 L208.4 478.6 L205.0 486.5 L207.3 493.3 L205.0 504.5 L207.3 520.3 L216.3 533.8 L223.0 548.4 L196.0 548.4 L193.8 536.0 L192.6 522.5 L191.5 504.5 L187.0 491.0 L178.0 478.6 L171.3 483.1 L155.5 489.9 L137.5 497.8 L121.8 502.3 L108.2 495.5 L97.0 493.3 L83.5 497.8 L67.8 496.6Z" fill="#ffc000"/>
<path d="M67.8 468.5 L92.5 467.4 L110.5 473.0 L124.0 480.9 L121.8 485.4 L106.0 489.9 L92.5 487.6 L79.0 491.0 L67.8 489.9Z" fill="#ffd500"/>
<path d="M194.9 495.5 L199.4 496.6 L202.8 504.5 L205.0 513.5 L208.4 522.5 L214.0 531.5 L219.6 542.8 L220.8 548.4 L205.0 548.4 L202.8 536.0 L198.3 527.0 L196.0 515.8 L193.8 504.5Z" fill="#ffe800"/>
<path d="M196.0 498.9 L199.4 500.0 L202.8 511.3 L206.1 521.4 L211.8 530.4 L217.4 540.5 L219.6 548.4 L212.9 548.4 L209.5 538.3 L203.9 529.3 L199.4 520.3 L196.5 509.0Z" fill="#f2ff00"/>
<path d="M122.9 477.5 L127.4 475.7 L133.0 479.8 L131.9 484.7 L125.1 486.1 L122.2 482.0Z" fill="#ffff00"/>
<path d="M205.0 446.0 L203.2 455.0 L198.7 462.9 L193.3 468.5 L188.1 472.6 L196.0 477.1 L205.0 479.3 L208.4 478.6 L209.5 473.0 L216.3 466.2 L223.0 457.2 L227.5 450.5 L214.0 434.8 L205.0 434.8Z" fill="#ffd500"/>
<path d="M67.8 518.0 L81.2 523.6 L94.8 520.3 L101.5 529.3 L115.0 532.6 L133.0 528.1 L144.3 533.8 L153.3 540.5 L164.5 538.3 L169.0 533.8 L178.0 536.0 L187.0 542.8 L192.6 545.0 L192.6 554.0 L67.8 554.0Z" fill="#ffc000"/>
<path d="M727.6 92.0 L732.9 96.4 L729.4 104.3 L727.6 111.4 L732.9 110.5 L741.7 107.0 L746.1 102.6 L751.4 99.0 L741.7 92.0Z" fill="#99ffff"/>
<path d="M732.0 127.3 L743.5 124.6 L755.8 123.4 L773.5 122.3 L773.5 129.9 L760.2 129.4 L757.6 131.7 L758.5 134.3 L748.8 135.7 L738.2 138.7 L732.9 132.6Z" fill="#80ffd9"/>
<path d="M702.0 139.6 L703.8 128.2 L712.6 120.2 L725.8 111.8 L732.9 111.0 L731.5 114.6 L727.6 120.2 L720.5 125.9 L711.7 132.9 L706.8 140.0Z" fill="#99ffff"/>
<path d="M762.9 91.1 L773.5 91.1 L773.5 95.5 L768.2 96.4Z" fill="#66ffff"/>
<path d="M264.0 240.0 L270.0 235.0 L280.0 236.0 L288.0 241.0 L300.0 239.0 L310.0 238.0 L318.0 233.0 L330.0 232.0 L340.0 234.0 L342.0 238.0 L338.0 244.0 L326.0 247.0 L314.0 248.0 L306.0 251.0 L296.0 252.0 L284.0 252.0 L272.0 250.0 L266.0 246.0Z" fill="#ccff00"/>
<path d="M627.0 441.0 L640.0 437.0 L660.0 434.0 L680.0 434.0 L695.0 440.0 L702.0 452.0 L700.0 465.0 L690.0 472.0 L670.0 474.0 L650.0 470.0 L636.0 466.0 L628.0 456.0Z" fill="#ff9d00"/>
<path d="M624.0 480.0 L630.0 472.0 L640.0 470.0 L648.0 474.0 L652.0 482.0 L660.0 486.0 L665.0 490.0 L660.0 494.0 L654.0 490.0 L650.0 496.0 L640.0 496.0 L632.0 500.0 L625.0 502.0 L624.0 494.0 L628.0 488.0Z" fill="#ffc000"/>
<path d="M606.0 484.0 L612.0 482.0 L620.0 485.0 L614.0 488.0Z" fill="#ffc000"/>
<path d="M520.0 545.0 L539.0 542.0 L559.0 542.0 L578.0 540.0 L601.0 542.0 L627.0 543.5 L643.0 537.0 L663.0 538.6 L676.0 534.0 L689.0 535.0 L694.0 542.0 L700.0 537.0 L707.0 530.5 L715.0 535.0 L731.0 537.0 L747.5 537.0 L762.0 538.6 L772.0 545.0 L772.0 552.0 L520.0 552.0Z" fill="#ffc000"/>
<path d="M463.0 476.0 L469.0 485.0 L478.0 485.0 L492.0 486.0 L506.0 486.7 L520.0 485.0 L530.0 485.8 L540.0 482.0 L552.0 484.0 L560.0 492.0 L556.0 505.0 L545.0 515.0 L540.0 530.0 L530.0 545.0 L518.0 549.0 L460.0 549.0 L455.0 500.0Z" fill="#ff9d00"/>
<path d="M700.0 438.0 L712.0 444.0 L724.0 449.0 L740.0 448.0 L752.0 450.0 L762.0 447.0 L772.0 443.0 L772.0 436.0 L700.0 430.0Z" fill="#ffc000"/>
<path d="M686.0 448.0 L694.0 452.0 L702.0 451.0 L698.0 457.0 L690.0 455.0Z" fill="#ff9d00"/>
<path d="M746.0 468.0 L750.0 466.0 L753.0 470.0 L749.0 473.0Z" fill="#ff9d00"/>
<path d="M236.0 226.0 L238.6 220.7 L242.6 216.4 L246.8 212.2 L251.2 208.4 L256.5 205.8 L261.9 203.4 L267.5 201.7 L273.3 200.3 L279.0 199.2 L282.2 194.6 L284.8 189.3 L289.3 187.0 L294.6 188.9 L299.5 191.9 L305.3 190.6 L310.4 188.0 L314.9 184.2 L319.4 180.5 L324.8 178.1 L330.3 176.0 L336.2 175.5 L342.1 175.0 L347.8 176.4 L353.5 177.9 L359.4 178.0 L365.3 178.0 L371.0 176.7 L376.3 174.3 L381.0 170.8 L386.2 167.9 L391.1 167.1 L395.3 171.3 L400.1 169.3 L405.0 170.0 L409.8 173.5 L414.3 177.3 L418.8 181.0 L423.4 184.8 L426.8 184.7 L428.9 179.1 L431.5 173.9 L435.1 169.2 L440.2 166.9 L446.0 165.7 L451.9 165.0 L456.4 161.3 L461.1 157.7 L465.8 154.1 L470.0 150.0 L474.0 152.0 L470.0 146.0 L460.0 139.0 L450.0 131.0 L443.0 124.0 L442.0 117.0 L447.0 110.0 L454.0 106.0 L464.0 106.0 L476.0 110.0 L488.0 110.0 L500.0 110.0 L506.0 100.0 L504.0 92.0 L504.0 80.0 M237.0 228.5 L240.1 223.7 L244.1 219.6 L248.4 215.6 L253.0 212.3 L258.0 209.5 L263.4 207.3 L268.8 205.4 L274.4 204.1 L280.1 203.1 L284.5 200.8 L288.3 197.3 L292.5 194.1 L297.8 194.2 L303.0 194.9 L308.6 193.7 L313.9 191.6 L318.6 188.3 L323.3 185.0 L328.5 182.5 L333.7 180.0 L339.0 178.3 L344.7 177.5 L350.3 177.7 L356.0 177.9 L361.7 177.7 L367.5 177.5 L373.0 177.8 L378.2 177.7 L383.1 177.2 L388.2 177.1 L392.4 178.9 L396.2 183.1 L400.9 180.4 L405.9 179.5 L410.9 180.4 L415.8 182.1 L420.4 185.5 L425.3 187.1 L428.1 184.4 L430.2 179.1 L432.9 174.0 L436.6 169.7 L441.8 167.6 L447.5 166.6 L453.0 165.3 L457.5 161.8 L462.3 158.5 L467.1 155.5 L472.0 153.0 L482.0 154.0 L484.0 148.0 L478.0 143.0 L468.0 139.0 L460.0 132.0 L459.0 125.0 L466.0 121.0 L478.0 122.0 L487.0 118.0 L500.0 117.0 L512.0 118.0 L524.0 117.0 L530.0 112.0 L526.0 104.0 L522.0 98.0 L526.0 92.0 L526.0 80.0 M238.0 231.0 L241.6 226.7 L245.6 222.7 L249.9 219.1 L254.8 216.1 L259.6 213.2 L264.8 211.1 L270.1 209.0 L275.6 207.9 L281.2 207.0 L286.8 207.0 L291.7 205.3 L295.7 201.3 L301.1 199.5 L306.5 197.9 L312.0 196.8 L317.4 195.2 L322.2 192.3 L327.1 189.5 L332.1 186.9 L337.0 184.1 L341.8 181.1 L347.3 180.0 L352.9 179.0 L358.4 178.0 L364.1 177.5 L369.7 177.0 L375.0 178.9 L380.2 181.1 L385.2 183.6 L390.2 186.3 L393.7 190.7 L397.2 194.9 L401.8 191.6 L406.8 189.1 L412.1 187.3 L417.3 186.9 L422.0 190.0 L427.2 189.4 L429.3 184.2 L431.6 179.0 L434.3 174.0 L438.0 170.2 L443.3 168.3 L448.9 167.4 L454.0 165.5 L458.6 162.3 L463.4 159.2 L468.4 156.8 L474.0 156.0 L484.0 158.0 L492.0 153.0 L494.0 145.0 L490.0 137.0 L489.0 130.0 L490.0 133.0 L502.0 134.0 L516.0 133.0 L536.0 132.0 L546.0 130.0 L554.0 134.0 L561.0 135.0 L563.0 131.0 L559.0 126.0 L562.0 124.0 L574.0 126.4 L579.0 135.0 L584.0 137.6 L588.0 132.0 L590.0 127.0 L602.0 127.0 L612.0 126.0 L614.0 123.0 L608.0 120.0 L604.0 116.0 L606.0 110.0 L614.0 104.0 L613.0 98.0 L620.0 94.0 L628.0 92.0 L628.0 80.0 M224.0 244.0 L233.0 239.0 L238.4 231.7 L241.2 228.4 L244.1 225.2 L247.4 222.4 L250.8 219.7 L254.5 217.5 L258.2 215.3 L262.0 213.3 L266.0 211.7 L270.1 210.2 L274.3 209.2 L278.5 208.4 L282.8 208.2 L287.1 208.3 L291.2 207.9 L294.5 205.7 L298.0 203.5 L302.1 202.3 L306.2 201.0 L310.3 199.7 L314.4 198.6 L318.3 196.8 L322.0 194.6 L325.7 192.4 L329.6 190.5 L333.5 188.6 L337.3 186.6 L341.0 184.9 L345.1 184.0 L349.3 183.6 L353.6 183.2 L357.7 182.5 L361.9 181.6 L366.0 180.8 L370.1 180.1 L374.2 181.3 L378.3 182.5 L382.3 184.1 L386.1 186.1 L390.0 188.0 L397.0 196.0 L404.0 191.0 L410.0 189.0 L416.0 187.0 L422.0 191.0 L427.0 191.0 L431.0 181.0 L436.0 172.0 L444.0 169.0 L452.0 168.0 L459.0 163.0 L467.0 158.0 L474.0 157.0 L484.0 160.0 L494.0 156.0 L500.0 148.0 L494.0 140.0 L500.0 142.0 L508.0 150.0 L516.0 152.0 L524.0 145.0 L530.0 144.4 L534.0 151.0 L544.0 156.0 L546.0 150.0 L554.0 147.0 L562.0 145.0 L574.0 147.0 L584.0 146.0 L590.0 140.0 L598.0 142.0 L606.0 147.0 L614.0 143.0 L618.0 135.0 L624.0 134.0 L630.0 138.0 L635.0 138.0 L633.0 133.0 L638.0 128.0 L649.0 130.0 L657.0 135.0 L667.0 129.0 L676.0 133.0 L677.0 140.0 L688.0 139.0 L701.0 145.0 L713.5 143.0 L724.0 146.0 L735.0 147.0 L738.0 140.0 L760.0 138.0 M208.8 254.8 L215.8 249.8 L224.8 244.8 L233.8 239.8 L238.9 232.6 L241.8 229.4 L244.7 226.2 L248.0 223.5 L251.4 220.8 L255.1 218.6 L258.8 216.4 L262.7 214.5 L266.6 212.9 L270.7 211.4 L274.9 210.5 L279.1 209.7 L283.4 209.7 L287.7 209.9 L291.8 209.9 L295.3 208.8 L299.0 207.1 L303.1 205.9 L307.1 204.5 L311.1 202.9 L315.0 201.3 L318.8 199.4 L322.4 197.1 L326.2 194.9 L330.0 193.1 L334.0 191.3 L337.8 189.6 L341.7 188.7 L345.8 188.3 L350.0 188.4 L354.2 188.5 L358.3 187.9 L362.2 186.6 L366.1 185.2 L370.0 183.9 L374.1 184.6 L378.3 185.5 L382.3 186.6 L386.1 188.6 L390.0 190.5 L397.0 198.0 L404.0 194.0 L411.0 192.0 L417.0 190.0 L422.0 194.0 L428.0 194.0 L432.0 184.0 L437.0 176.0 L443.0 177.0 L448.0 179.0 L458.0 178.0 L467.0 174.0 L480.0 170.0 L490.0 172.0 L496.0 176.0 L498.0 184.0 L503.0 185.6 L505.0 179.0 L517.0 172.0 L510.0 164.4 L522.0 156.4 L527.0 161.0 L536.0 166.4 L546.0 169.0 L553.0 161.0 L558.0 153.6 L564.0 156.4 L567.6 168.0 L578.0 172.0 L590.0 174.0 L598.0 178.4 L608.0 184.4 L618.0 186.0 L626.0 180.4 L630.0 178.4 L638.0 180.0 L645.0 184.0 L652.0 187.0 L659.0 191.0 L663.0 184.0 L670.0 182.0 L679.0 183.0 L684.0 188.0 L692.0 184.0 L701.0 181.0 L708.0 178.0 L730.0 176.0 M205.7 262.7 L209.7 255.7 L216.7 250.7 L225.7 245.7 L234.7 240.7 L239.6 233.8 L242.6 230.7 L245.6 227.7 L248.9 224.9 L252.2 222.3 L256.0 220.1 L259.7 218.0 L263.5 216.2 L267.5 214.5 L271.5 213.1 L275.7 212.3 L279.9 211.5 L284.2 211.8 L288.5 212.1 L292.6 212.8 L296.4 213.2 L300.4 212.2 L304.5 210.9 L308.4 209.4 L312.1 207.2 L315.7 205.1 L319.4 202.9 L323.0 200.6 L326.7 198.5 L330.7 196.8 L334.6 195.1 L338.6 193.8 L342.6 194.0 L346.8 194.4 L350.9 195.2 L355.1 196.0 L359.0 195.6 L362.6 193.5 L366.2 191.3 L369.8 189.2 L373.9 189.3 L378.2 189.6 L382.3 190.2 L386.2 192.1 L390.0 194.0 L398.0 201.0 L406.0 197.0 L414.0 196.0 L420.0 197.0 L428.0 198.0 L434.0 200.0 L442.0 204.0 L450.0 203.0 L456.0 200.0 L462.0 192.0 L468.0 183.0 L476.0 180.0 L486.0 183.0 L496.0 187.0 L510.0 192.0 L526.0 194.0 L536.0 196.0 L550.0 201.0 L554.0 194.0 L560.0 192.0 L568.0 196.0 L570.0 204.0 L576.0 212.0 L578.0 220.0 L586.0 217.0 L594.0 212.0 L606.0 208.0 L618.0 216.0 L630.0 221.7 L640.6 224.3 L653.0 219.0 L663.5 228.0 L676.0 229.6 L688.0 222.6 L700.5 220.8 L714.7 219.0 L725.0 220.0 L730.5 224.5 L742.0 216.0 L770.0 200.0 M206.5 272.5 L206.5 263.5 L210.5 256.5 L217.5 251.5 L226.5 246.5 L235.5 241.5 L239.9 234.3 L242.9 231.2 L245.9 228.2 L249.2 225.4 L252.5 222.8 L256.3 220.7 L260.0 218.6 L263.9 216.8 L267.8 215.1 L271.8 213.8 L276.0 212.9 L280.2 212.2 L284.5 212.5 L288.7 212.9 L292.9 213.9 L296.9 214.8 L300.9 214.0 L305.0 212.8 L308.9 211.2 L312.5 208.8 L316.0 206.5 L319.6 204.2 L323.3 201.9 L327.0 199.8 L330.9 198.2 L334.9 196.5 L338.8 195.4 L343.0 196.0 L347.2 196.7 L351.3 197.7 L355.4 198.8 L359.2 198.4 L362.7 196.0 L366.2 193.6 L369.7 191.2 L373.9 191.1 L378.1 191.2 L382.3 191.5 L386.2 193.4 L390.0 195.3 L398.0 203.5 L406.0 200.5 L414.0 199.5 L422.0 204.0 L432.0 206.0 L440.0 212.0 L448.0 214.0 L456.0 211.0 L463.0 210.0 L470.0 212.0 L480.0 214.0 L490.0 213.0 L497.0 212.0 L502.0 218.0 L510.0 224.0 L520.0 226.0 L530.0 227.0 L538.0 231.0 L546.0 233.0 L554.0 228.0 L564.0 228.0 L570.0 230.0 L564.0 234.0 L560.0 238.0 L566.0 239.0 L574.0 234.0 L582.0 232.0 L588.0 233.0 L590.0 240.0 L598.0 242.0 L608.0 247.0 L616.0 248.0 L624.0 252.0 L630.0 250.0 L640.6 253.4 L644.0 259.6 L651.0 257.9 L658.0 259.6 L665.0 257.9 L674.0 261.4 L683.0 264.0 L680.0 268.4 L688.0 266.7 L695.0 265.0 L697.0 266.7 L690.0 272.8 L679.4 277.3 L674.0 282.5 L672.0 289.6 L668.8 295.8 L700.0 300.0 M210.4 282.4 L207.4 273.4 L207.4 264.4 L211.4 257.4 L218.4 252.4 L227.4 247.4 L236.4 242.4 L240.4 235.1 L243.4 232.1 L246.5 229.1 L249.7 226.3 L253.1 223.7 L256.8 221.6 L260.6 219.6 L264.4 217.7 L268.4 216.0 L272.4 214.7 L276.6 213.9 L280.8 213.1 L285.0 213.6 L289.3 214.0 L293.4 215.0 L297.5 216.3 L301.6 215.6 L305.7 214.4 L309.6 212.8 L313.1 210.3 L316.6 207.9 L320.1 205.5 L323.8 203.2 L327.5 201.1 L331.4 199.5 L335.4 197.9 L342.0 200.0 L345.0 208.0 L345.0 220.0 L346.0 231.0 L352.0 236.0 L360.0 244.0 L368.0 247.0 L376.0 242.0 L388.0 239.0 L400.0 236.0 L408.0 234.0 L410.0 230.0 L419.0 231.0 L421.0 242.0 L426.0 251.0 L432.0 248.0 L440.0 244.0 L444.0 233.0 L450.0 229.0 L457.0 227.0 L454.0 234.0 L450.0 242.0 L454.0 245.0 L462.0 246.0 L470.0 245.0 L480.0 248.0 L488.0 242.0 L495.0 233.0 L500.0 244.0 L503.0 250.0 L510.0 248.0 L518.0 245.0 L523.0 250.0 L526.0 256.0 L534.0 255.0 L542.0 253.0 L550.0 257.0 L556.0 262.0 L560.0 268.0 L566.0 276.0 L572.0 282.0 L580.0 284.0 L588.0 279.0 L594.0 280.0 L602.0 285.0 L610.0 289.0 L622.0 287.0 L630.0 293.0 L636.0 300.0 L638.0 310.0 L634.0 318.0 L636.0 326.0 L642.0 332.0 L644.0 342.0 L648.0 352.0 L652.0 362.0 L650.0 372.0 L653.0 380.0 L652.0 386.0 L660.0 392.0 L700.0 395.0 M208.0 281.0 L206.0 271.0 L206.5 262.0 L210.5 255.5 L217.5 250.5 L226.5 245.5 L235.0 240.5 L241.0 236.0 L247.0 230.0 L253.0 225.0 L262.0 220.0 L270.0 216.5 L280.0 214.5 L290.0 215.5 L298.0 218.0 L308.0 215.0 L318.0 208.0 L326.0 203.0 L334.0 200.0 L339.0 206.0 L340.0 216.0 L336.0 226.0 L326.0 230.0 L314.0 231.0 L304.0 236.0 L296.0 237.0 L288.0 239.0 L278.0 234.0 L268.0 234.0 L260.0 239.0 L257.0 246.0 L258.0 254.0 L263.0 261.0 L270.0 263.0 L280.0 264.0 L290.0 262.0 L300.0 262.0 L310.0 261.0 L322.0 262.0 L336.0 260.0 L350.0 262.0 L356.0 261.0 L372.0 257.0 L380.0 258.0 L386.0 263.0 L394.0 262.0 L402.0 255.0 L408.0 251.0 L414.0 255.0 L412.0 264.0 L418.0 268.0 L428.0 264.4 L434.0 267.0 L440.0 265.0 L450.0 266.0 L460.0 265.0 L466.0 272.0 L470.0 275.0 L478.0 276.0 L480.0 269.0 L486.0 270.0 L492.0 276.0 L500.0 281.0 L510.0 280.0 L520.0 279.0 L526.0 286.0 L534.0 296.0 L544.0 302.0 L554.0 307.0 L564.0 313.0 L572.0 318.0 L578.0 330.0 L577.0 336.0 L582.0 340.0 L590.0 344.0 L590.0 352.0 L594.0 358.0 L602.0 361.0 L610.0 362.0 L618.0 360.0 L630.0 359.0 L636.0 366.0 L640.0 376.0 L642.0 386.0 L646.0 394.0 L652.0 400.0 L660.0 404.0 L668.0 405.0 L700.0 408.0 M206.0 302.0 L214.0 300.0 L216.5 290.0 L215.5 278.0 L213.5 266.0 L214.5 256.0 L219.0 249.0 L228.0 250.0 L235.0 256.0 L237.0 266.0 L236.0 276.0 L238.0 286.0 L246.0 284.0 L256.0 282.0 L265.0 279.0 L270.0 282.0 L273.0 288.0 L280.0 292.0 L290.0 290.0 L306.0 290.0 L314.0 286.0 L322.0 278.0 L326.0 270.0 L328.0 274.0 L334.0 282.0 L344.0 285.0 L352.0 284.0 L360.0 278.0 L370.0 281.0 L380.0 282.0 L390.0 281.0 L400.0 287.0 L406.0 289.0 L409.0 286.0 L414.0 290.0 L420.0 286.0 L430.0 287.0 L438.0 292.0 L442.0 302.0 L450.0 308.0 L458.0 311.0 L470.0 312.0 L474.0 318.0 L476.0 328.0 L482.0 331.0 L488.0 336.0 L489.0 344.0 L494.0 348.0 L500.0 356.0 L495.0 362.0 L493.0 369.0 L498.0 371.0 L505.0 364.0 L511.0 363.0 L517.0 369.0 L522.0 375.0 L518.0 380.0 L520.0 386.0 L528.0 392.0 L534.0 396.0 L538.0 390.0 L540.0 385.0 L550.0 383.0 L555.0 388.0 L560.0 391.0 L566.0 388.0 L570.0 383.0 L574.0 382.0 L578.0 387.0 L584.0 389.0 L592.0 385.0 L595.0 392.0 L602.0 398.0 L610.0 401.0 L620.0 402.0 L630.0 403.0 L640.0 404.0 L650.0 406.0 L660.0 409.0 L668.0 410.0 L676.0 411.0 L700.0 413.0 M210.0 317.0 L220.0 320.0 L230.0 322.0 L240.0 320.0 L250.0 316.0 L262.0 311.0 L270.0 308.0 L279.0 312.0 L278.0 320.0 L279.0 330.0 L286.0 325.0 L298.0 320.0 L310.0 316.0 L318.0 311.0 L324.0 314.0 L332.0 315.0 L350.0 321.0 L353.0 328.0 L358.0 327.0 L362.0 336.0 L370.0 339.0 L378.0 342.0 L376.0 353.0 L375.0 361.0 L381.0 367.0 L390.0 371.0 L398.0 374.0 L396.0 367.0 L400.0 365.0 L405.0 370.0 L406.0 378.0 L414.0 383.0 L410.0 393.0 L411.0 398.0 L418.0 402.0 L425.0 404.0 L430.0 400.0 L437.0 405.5 L450.0 406.4 L465.0 406.0 L480.0 405.0 L486.0 404.0 L496.0 406.0 L510.0 404.0 L520.0 406.0 L530.0 410.0 L534.0 416.0 L542.0 419.0 L550.0 422.0 L558.0 424.0 L566.0 429.0 L572.0 424.0 L580.0 421.0 L586.0 417.0 L592.0 416.0 L598.0 416.0 L610.0 423.0 L614.0 428.0 L622.0 424.0 L630.0 422.0 L640.0 421.0 L650.0 420.0 L660.0 420.0 L670.0 421.0 L680.0 422.0 L700.0 424.0 M403.5 432.0 L405.3 431.0 L414.0 440.0 L426.5 449.6 L440.6 458.4 L454.7 461.0 L463.5 464.3 L474.0 465.5 L482.0 465.0 L492.0 464.0 L502.0 465.0 L505.0 470.0 L509.3 468.0 L514.6 462.0 L520.0 458.0 L534.0 455.6 L546.0 456.0 L558.0 457.0 L559.0 455.7 L572.0 451.0 L585.0 451.0 L598.0 447.6 L614.0 444.0 L627.0 441.0 L629.0 433.0 L643.5 431.0 L660.0 428.5 L673.0 430.0 L682.5 429.0 L689.0 431.0 L700.0 434.0 M87.0 306.0 L92.0 300.0 L102.0 299.0 L110.0 294.0 L113.0 287.0 L120.0 287.0 L124.0 292.0 L128.0 300.0 L134.0 308.0 L139.0 302.0 L144.0 295.0 L150.0 291.0 L156.0 285.0 L164.0 281.0 L172.0 283.0 L178.0 288.0 L184.0 295.0 L190.0 301.0 L198.0 304.0 M89.0 285.0 L98.0 279.0 L110.0 277.0 L122.0 279.0 L130.0 276.0 L138.0 274.0 L147.0 276.0 L156.0 271.6 L166.0 271.6 L174.0 274.4 L180.0 279.6 L186.0 287.6 L190.6 294.0 L196.0 300.0 L203.0 303.6 M150.0 298.0 L156.0 293.0 L166.0 291.0 L171.0 295.0 L172.0 302.0 L178.0 308.0 L179.0 314.0 L176.0 319.0 L170.0 320.0 L166.0 324.0 L165.0 332.0 L158.0 332.0 L158.0 320.0 L156.0 312.0 L151.0 306.0Z M139.0 281.0 L145.0 278.0 L151.0 280.0 L152.0 284.0 L146.0 286.4 L140.0 285.0Z M142.0 281.6 L145.6 280.0 L149.0 281.6 L148.4 284.0 L144.0 284.4Z M131.0 287.0 L138.0 278.0 L146.0 275.0 L155.0 277.0 L158.0 285.0 L150.0 292.0 L140.0 292.4Z M307.0 398.0 L312.0 395.0 L322.0 394.0 L330.0 396.0 L334.0 400.0 L330.0 405.0 L318.0 406.0 L310.0 404.0Z M165.2 419.6 L171.4 416.1 L177.6 411.7 L184.6 416.1 L189.9 421.4 L186.4 430.2 L185.5 439.9 L179.3 438.1 L172.3 430.2 L166.1 424.9Z M87.6 387.9 L92.9 377.3 L94.7 368.5 L105.3 364.1 L113.2 368.5 L114.1 377.3 L111.5 387.9 L105.3 394.9 L100.9 393.1 L100.0 388.7 L92.9 390.5Z M94.7 372.9 L98.2 366.7 L106.2 364.9 L112.0 369.3 L112.3 377.3 L109.7 383.4 L103.5 381.7 L98.2 379.9Z M137.0 400.2 L140.6 394.9 L147.6 391.4 L152.9 387.0 L159.9 388.2 L166.1 394.9 L169.7 402.0 L168.8 406.4 L161.7 409.0 L158.2 412.6 L149.4 416.1 L144.1 419.6 L140.6 417.8 L139.7 410.8 L137.9 405.5Z M144.1 398.4 L149.4 393.1 L156.4 389.6 L163.5 394.9 L167.9 402.0 L161.7 406.4 L152.9 407.3 L145.8 403.7Z M168.8 394.0 L172.3 392.8 L175.5 395.8 L174.1 399.3 L170.5 398.4Z M102.6 409.0 L105.3 405.1 L109.7 405.5 L114.1 411.7 L122.9 415.2 L131.7 414.3 L137.9 409.9 L140.6 412.6 L140.6 419.6 L131.7 424.0 L121.2 424.9 L110.6 422.2 L104.4 416.1Z M194.0 419.6 L197.6 426.0 L199.0 434.0 L199.6 444.0 L197.0 453.0 L190.0 460.0 L184.0 465.0 L180.0 470.0 M230.0 452.0 L224.0 460.0 L218.0 468.0 L210.0 476.0 L204.0 478.0 L202.0 468.0 L205.0 456.0 L204.0 444.0 L200.0 434.0 L200.0 424.0 M205.0 426.0 L209.0 419.0 L214.0 415.6 L221.0 416.4 L225.6 419.6 L228.0 425.0 L229.0 434.0 L226.0 436.0 L220.0 431.0 L214.0 431.0 L208.0 430.0Z M210.0 420.0 L215.0 417.0 L221.0 418.4 L223.6 422.0 L220.0 426.0 L213.0 425.0Z M67.8 458.4 L99.2 458.4 L115.0 465.1 L128.5 475.2 L137.5 479.8 L160.0 476.4 L175.8 475.2 L187.0 470.8 L196.0 464.0 L202.8 455.0 L205.0 446.0 L202.8 437.0 M223.0 548.4 L196.0 548.4 L193.8 536.0 L192.6 522.5 L191.5 504.5 L187.0 491.0 L178.0 478.6 L171.3 483.1 L155.5 489.9 L137.5 497.8 L121.8 502.3 L108.2 495.5 L97.0 493.3 L83.5 497.8 L67.8 496.6 M122.9 477.5 L127.4 475.7 L133.0 479.8 L131.9 484.7 L125.1 486.1 L122.2 482.0Z M67.8 518.0 L81.2 523.6 L94.8 520.3 L101.5 529.3 L115.0 532.6 L133.0 528.1 L144.3 533.8 L153.3 540.5 L164.5 538.3 L169.0 533.8 L178.0 536.0 L187.0 542.8 L192.6 545.0 M702.0 139.6 L703.8 128.2 L712.6 120.2 L725.8 111.8 L732.9 111.0 L731.5 114.6 L727.6 120.2 L720.5 125.9 L711.7 132.9 L706.8 140.0Z M264.0 240.0 L270.0 235.0 L280.0 236.0 L288.0 241.0 L300.0 239.0 L310.0 238.0 L318.0 233.0 L330.0 232.0 L340.0 234.0 L342.0 238.0 L338.0 244.0 L326.0 247.0 L314.0 248.0 L306.0 251.0 L296.0 252.0 L284.0 252.0 L272.0 250.0 L266.0 246.0Z M624.0 480.0 L630.0 472.0 L640.0 470.0 L648.0 474.0 L652.0 482.0 L660.0 486.0 L665.0 490.0 L660.0 494.0 L654.0 490.0 L650.0 496.0 L640.0 496.0 L632.0 500.0 L625.0 502.0 L624.0 494.0 L628.0 488.0Z M606.0 484.0 L612.0 482.0 L620.0 485.0 L614.0 488.0Z M520.0 545.0 L539.0 542.0 L559.0 542.0 L578.0 540.0 L601.0 542.0 L627.0 543.5 L643.0 537.0 L663.0 538.6 L676.0 534.0 L689.0 535.0 L694.0 542.0 L700.0 537.0 L707.0 530.5 L715.0 535.0 L731.0 537.0 L747.5 537.0 L762.0 538.6 L772.0 545.0 M700.0 438.0 L712.0 444.0 L724.0 449.0 L740.0 448.0 L752.0 450.0 L762.0 447.0 L772.0 443.0 M686.0 448.0 L694.0 452.0 L702.0 451.0 L698.0 457.0 L690.0 455.0Z M746.0 468.0 L750.0 466.0 L753.0 470.0 L749.0 473.0Z" fill="none" stroke="#1a1a00" stroke-opacity="0.85" stroke-width="0.55" stroke-linejoin="round"/>
<path d="M236.0 226.0 L239.0 220.0 L250.0 208.0 L260.0 200.0 L270.0 192.0 L280.0 186.0 L290.0 184.0 L300.0 183.0 L310.0 182.0 L320.0 179.0 L330.0 176.0 L342.0 174.0 L354.0 176.0 L366.0 176.0 L374.0 174.0 L382.0 169.0 L390.0 165.0 L396.0 170.0 L402.0 167.0 L408.0 171.0 L414.0 176.0 L420.0 181.0 L426.0 186.0 L430.0 175.0 L436.0 167.0 L444.0 165.0 L452.0 164.0 L458.0 159.0 L466.0 153.0 L470.0 149.0 L462.0 148.0 L452.0 140.0 L444.0 131.0 L438.0 120.0 L438.0 110.0 L442.0 102.0 L452.0 97.0 L470.0 97.0 L488.0 99.0 L496.0 98.0 L498.0 92.0 L498.0 80.0 M236.5 227.2 L239.4 222.2 L243.4 218.0 L247.6 213.9 L252.1 210.3 L257.3 207.6 L262.6 205.3 L268.2 203.6 L273.8 202.2 L279.6 201.1 L283.4 197.7 L286.6 193.3 L290.9 190.6 L296.2 191.5 L301.2 193.4 L306.9 192.2 L312.1 189.8 L316.7 186.3 L321.4 182.7 L326.6 180.3 L332.0 178.0 L337.6 176.9 L343.4 176.3 L349.1 177.1 L354.7 177.9 L360.6 177.9 L366.4 177.8 L372.0 177.3 L377.3 176.0 L382.1 174.0 L387.2 172.5 L391.8 173.0 L395.8 177.2 L400.5 174.8 L405.4 174.8 L410.4 176.9 L415.1 179.7 L419.6 183.3 L424.3 186.0 L427.5 184.5 L429.5 179.1 L432.2 174.0 L435.8 169.5 L441.0 167.3 L446.7 166.2 L452.4 165.1 L457.0 161.5 L461.7 158.1 L466.5 154.8 L471.0 151.5 L478.0 153.0 L478.0 147.0 L470.0 142.0 L460.0 136.0 L452.0 128.0 L450.0 121.0 L456.0 115.0 L466.0 113.0 L478.0 116.0 L490.0 117.0 L504.0 116.0 L514.0 108.0 L514.0 92.0 L514.0 80.0 M237.5 229.8 L240.9 225.2 L244.9 221.1 L249.1 217.3 L253.9 214.2 L258.8 211.4 L264.1 209.2 L269.4 207.2 L275.0 206.0 L280.6 205.0 L285.7 203.9 L290.0 201.3 L294.1 197.7 L299.4 196.8 L304.7 196.4 L310.3 195.3 L315.6 193.4 L320.4 190.3 L325.2 187.2 L330.3 184.7 L335.3 182.1 L340.4 179.7 L346.0 178.8 L351.6 178.3 L357.2 177.9 L362.9 177.6 L368.6 177.3 L374.0 178.3 L379.2 179.4 L384.2 180.4 L389.2 181.7 L393.0 184.8 L396.7 189.0 L401.4 186.0 L406.3 184.3 L411.5 183.8 L416.6 184.5 L421.2 187.8 L426.3 188.2 L428.7 184.3 L430.9 179.0 L433.6 174.0 L437.3 170.0 L442.6 167.9 L448.2 167.0 L453.5 165.4 L458.1 162.0 L462.8 158.9 L467.8 156.1 L473.0 154.5 L486.0 155.0 L489.0 150.0 L486.0 145.0 L480.0 141.0 L484.0 135.0 L492.0 131.0 L500.0 128.0 L515.0 124.0 L530.0 118.0 L540.0 115.0 L550.0 112.0 L558.0 113.0 L568.0 111.0 L572.0 106.0 L578.0 100.0 L586.0 97.0 L588.0 92.0 L588.0 80.0 M232.6 238.6 L238.2 231.4 L242.8 226.0 L248.0 221.3 L253.8 217.3 L259.9 213.8 L266.4 211.0 L273.1 208.9 L280.1 207.8 L287.1 207.6 L293.4 205.1 L299.4 201.5 L306.2 199.5 L313.0 197.8 L319.5 195.0 L325.5 191.4 L331.8 188.3 L338.0 184.9 L344.5 182.3 L351.5 181.3 L358.5 180.2 L365.5 179.2 L372.4 179.3 L379.0 181.7 L385.4 184.7 L391.2 188.5 L395.5 194.0 L400.7 193.3 L406.9 190.0 L413.6 187.8 L419.7 189.5 L426.3 191.0 L429.4 185.1 L432.3 178.7 L435.7 172.5 L442.0 169.7 L448.9 168.4 L455.2 165.7 L461.0 161.7 L467.0 158.0 L474.0 157.0 L484.0 159.0 L489.2 156.5 L493.8 153.2 L496.5 148.2 L494.7 143.2 L493.8 139.9 L495.9 139.2 L498.1 139.8 L502.8 142.2 L508.1 141.6 L513.0 139.5 L518.7 139.3 L522.9 142.0 L528.2 143.4 L533.2 143.5 L537.4 140.8 L543.0 139.6 L548.7 138.6 L554.4 138.4 L560.1 138.5 L565.6 139.3 L570.7 138.8 L575.8 137.6 L580.4 136.9 L582.1 136.7 L585.5 134.8 L590.4 133.0 L594.3 130.5 L599.6 131.0 L603.6 135.0 L607.3 136.1 L609.7 134.0 L613.9 130.8 L618.3 129.2 L623.1 129.8 L628.4 130.4 L633.8 128.7 L639.2 128.5 L644.3 129.6 L644.8 131.0 L646.0 129.6 L647.5 128.3 L651.0 127.4 L655.6 126.5 L660.9 124.5 L664.8 122.5 L668.5 121.4 L673.9 120.6 L679.3 119.7 L683.0 116.0 L745.0 132.0 M216.4 249.4 L218.2 248.2 L219.9 246.9 L222.2 245.7 L224.4 244.4 L228.9 241.9 L233.4 239.4 L236.0 235.8 L238.7 232.1 L241.5 228.9 L244.4 225.7 L247.7 223.0 L251.1 220.2 L254.8 218.0 L258.5 215.9 L262.4 213.9 L266.3 212.3 L270.4 210.8 L274.6 209.9 L278.8 209.1 L283.1 208.9 L287.4 209.1 L291.5 208.9 L294.1 207.8 L297.6 205.9 L302.6 204.1 L306.7 202.7 L310.7 201.3 L314.7 199.9 L318.5 198.1 L322.2 195.9 L325.9 193.7 L329.8 191.8 L333.7 190.0 L337.5 188.1 L341.4 186.8 L345.5 186.2 L349.7 186.0 L353.9 185.9 L358.0 185.2 L362.0 184.1 L366.0 183.0 L370.1 182.0 L374.2 183.0 L378.3 184.0 L383.2 185.9 L387.1 187.8 L390.5 189.8 L394.2 194.0 L397.0 197.0 L400.1 195.0 L403.3 193.0 L410.5 190.5 L417.2 189.0 L422.0 192.5 L427.5 192.5 L429.1 188.6 L430.9 183.9 L433.6 179.0 L435.7 175.5 L441.9 173.6 L447.6 173.8 L452.5 173.2 L455.0 173.0 L458.6 171.0 L463.7 168.1 L467.2 166.6 L477.3 164.9 L481.2 164.8 L484.5 165.5 L487.7 165.7 L492.1 167.1 L492.6 169.1 L493.1 171.1 L497.1 171.4 L499.5 167.5 L501.5 166.3 L514.5 163.2 L516.5 162.0 L514.8 160.1 L511.4 157.8 L515.0 156.9 L517.0 155.5 L519.6 153.7 L530.5 156.0 L534.2 158.1 L538.6 160.5 L542.5 161.8 L545.0 162.5 L546.8 160.5 L548.5 158.5 L554.0 152.4 L556.8 150.1 L565.2 151.1 L566.6 153.1 L568.0 155.2 L569.3 157.2 L573.4 158.5 L576.8 159.4 L580.5 159.6 L585.0 159.7 L587.0 160.0 L600.0 161.6 L602.0 162.7 L604.5 164.2 L607.0 165.7 L609.5 166.1 L612.0 166.5 L614.0 165.1 L617.6 162.9 L621.2 161.1 L633.7 158.6 L636.5 159.0 L638.2 160.0 L640.0 161.0 L643.5 162.5 L666.2 164.5 L668.0 165.5 L669.0 163.8 L670.0 162.0 L673.5 161.0 L675.8 161.2 L678.0 161.5 L692.5 166.5 L694.5 165.5 L696.5 164.5 L698.8 163.8 L701.0 163.0 L705.3 161.4 L716.7 161.4 L720.4 161.6 L722.6 161.4 L727.2 161.4 L731.7 161.4 L734.5 161.5 L736.5 161.5 L738.5 161.5 L740.5 161.5 L742.5 161.5 L744.5 161.5 L746.5 161.5 L761.8 157.0 L766.0 157.0 L770.3 157.0 L773.8 157.0 M207.3 258.8 L208.3 257.0 L209.3 255.3 L213.1 252.5 L216.3 250.3 L220.8 247.8 L225.3 245.3 L229.8 242.8 L234.3 240.3 L236.5 237.1 L239.2 233.2 L242.2 230.0 L245.2 227.0 L248.4 224.2 L251.8 221.5 L255.5 219.4 L259.3 217.2 L263.1 215.4 L267.1 213.7 L271.1 212.2 L275.3 211.4 L279.5 210.6 L283.8 210.7 L288.1 211.0 L292.2 211.4 L295.9 211.0 L299.7 209.6 L303.8 208.4 L307.8 206.9 L311.6 205.0 L315.4 203.2 L319.1 201.1 L321.8 199.4 L325.5 197.3 L330.4 195.0 L334.3 193.2 L338.2 191.7 L342.2 191.4 L347.4 191.4 L351.5 191.8 L354.6 192.3 L358.6 191.8 L361.4 190.4 L365.2 188.6 L368.9 186.9 L374.0 187.0 L378.2 187.6 L383.3 188.9 L387.1 190.8 L390.6 192.9 L394.9 197.1 L397.5 199.5 L400.9 197.7 L405.9 195.2 L409.6 194.5 L413.2 193.8 L421.0 195.5 L423.8 195.8 L428.0 196.0 L431.0 197.0 L433.0 198.0 L435.0 199.0 L437.0 198.8 L439.0 198.5 L455.3 189.2 L458.5 187.0 L460.0 185.0 L463.0 182.1 L466.0 179.2 L470.9 177.3 L475.1 175.9 L482.2 176.1 L489.5 178.5 L494.5 184.5 L497.0 185.5 L501.0 186.9 L504.2 188.0 L506.5 188.8 L508.5 189.1 L510.5 189.3 L512.5 189.6 L520.2 183.8 L524.0 183.5 L539.3 182.1 L543.3 183.3 L545.7 184.2 L548.0 185.0 L549.0 183.2 L550.0 181.5 L564.5 180.3 L568.8 182.1 L573.0 184.0 L573.5 186.0 L574.0 188.0 L576.2 190.1 L579.2 192.4 L588.2 197.6 L590.1 200.5 L592.9 200.2 L596.3 200.3 L599.0 199.4 L601.0 198.2 L603.0 197.5 L605.0 196.9 L607.8 196.3 L612.3 198.1 L616.0 199.7 L618.0 201.0 L620.0 201.9 L622.0 202.9 L624.0 203.8 L645.0 205.8 L649.8 207.7 L651.9 206.8 L653.9 205.9 L656.0 205.0 L657.8 206.5 L659.5 208.0 L661.2 209.5 L663.3 209.8 L665.4 210.0 L667.5 210.3 L682.0 207.6 L684.0 206.5 L686.0 205.3 L688.1 205.0 L690.2 204.7 L692.2 204.4 L697.0 202.9 L704.0 200.8 L707.9 200.0 L717.9 198.4 L722.8 198.4 L728.7 200.4 L734.4 198.8 L737.9 197.4 L742.0 196.0 L745.3 195.0 L749.3 194.0 L752.6 193.0 L755.8 192.0 L759.8 191.0 L763.1 190.0 L766.4 189.0 L769.6 188.0 L773.9 187.8 M206.1 267.6 L206.1 265.4 L206.1 263.1 L207.9 259.9 L210.1 256.1 L213.9 253.3 L217.1 251.1 L221.6 248.6 L226.1 246.1 L230.6 243.6 L235.1 241.1 L237.2 237.9 L239.7 234.0 L242.7 231.0 L245.7 227.9 L249.0 225.2 L252.4 222.5 L256.1 220.4 L259.8 218.3 L263.7 216.5 L267.6 214.8 L271.7 213.4 L275.9 212.6 L280.1 211.8 L284.3 212.2 L288.6 212.5 L292.7 213.3 L296.7 214.0 L300.7 213.1 L304.8 211.9 L308.7 210.3 L312.3 208.0 L315.9 205.8 L319.5 203.5 L323.1 201.3 L326.9 199.2 L330.8 197.5 L334.7 195.8 L338.7 194.6 L342.8 195.0 L347.0 195.5 L351.1 196.4 L355.2 197.4 L359.1 197.0 L361.8 195.3 L365.3 193.0 L368.8 190.7 L373.9 190.2 L378.2 190.4 L382.3 190.8 L386.2 192.7 L390.6 195.1 L394.3 198.7 L398.0 202.2 L401.6 200.7 L405.2 199.2 L409.6 198.3 L414.0 197.8 L418.2 199.2 L422.6 200.7 L428.2 201.8 L433.0 203.0 L437.4 205.7 L441.0 208.0 L443.8 208.4 L447.4 208.7 L451.0 207.8 L453.8 206.6 L459.5 205.0 L463.0 206.0 L466.0 205.8 L469.0 205.7 L490.5 200.2 L494.6 200.6 L501.2 201.2 L506.0 205.0 L508.0 206.5 L511.6 208.2 L517.3 209.1 L522.2 209.9 L528.0 210.8 L535.3 212.3 L539.7 214.2 L543.2 215.7 L546.0 216.5 L548.0 217.0 L550.0 215.8 L566.0 224.0 L568.5 224.0 L571.0 224.0 L574.0 225.0 L571.0 227.0 L569.0 229.0 L572.0 229.5 L574.0 228.2 L576.0 227.0 L578.0 226.5 L580.0 226.0 L585.4 225.6 L585.6 229.4 L589.2 229.3 L592.0 229.5 L610.5 230.2 L615.2 232.6 L618.8 233.5 L622.2 234.5 L625.0 235.8 L627.8 237.0 L633.0 236.6 L638.0 238.0 L640.6 238.9 L642.3 242.0 L657.2 242.9 L660.8 243.8 L666.6 243.2 L671.2 244.4 L675.0 245.5 L677.2 246.1 L679.5 246.8 L678.0 249.0 L680.0 248.6 L682.0 248.1 L685.5 247.3 L686.5 248.1 L684.8 249.7 L683.0 251.2 L680.4 252.3 L677.7 253.4 L675.0 256.1 L674.0 259.6 L672.4 262.7 L674.6 263.0 L676.9 263.3 L679.1 263.6 L681.3 263.9 L683.5 264.2 L685.8 264.5 L688.0 264.8 L690.0 264.8 L692.1 264.8 L721.4 262.2 L723.4 262.2 L725.4 262.2 L727.5 262.2 L729.5 262.2 L731.5 262.2 L733.6 262.2 L735.6 262.2 L737.7 262.2 L739.7 262.2 L741.7 262.2 L743.8 262.2 L745.8 262.2 L747.8 262.2 L749.9 262.2 L751.9 262.2 L754.0 262.2 L756.0 262.2 L758.0 262.2 L761.3 261.3 L764.7 260.4 L772.6 256.5 M207.1 274.0 L206.9 273.3 L206.6 272.6 L206.6 269.4 L206.6 264.9 L208.3 260.7 L210.6 256.6 L214.7 253.7 L217.6 251.6 L222.1 249.1 L226.6 246.6 L231.1 244.1 L235.6 241.6 L237.4 238.6 L239.9 234.4 L242.9 231.3 L246.0 228.3 L249.3 225.6 L252.6 222.9 L256.4 220.9 L260.1 218.8 L264.0 217.0 L267.9 215.2 L271.9 213.9 L276.1 213.1 L280.3 212.3 L284.6 212.7 L288.8 213.1 L292.9 214.0 L297.0 215.1 L301.0 214.3 L305.1 213.0 L309.0 211.4 L312.6 209.1 L316.1 206.7 L319.7 204.4 L323.3 202.1 L327.0 200.0 L331.0 198.4 L334.9 196.7 L342.8 196.6 L344.8 197.5 L346.8 198.4 L348.6 199.4 L348.6 200.0 L350.3 201.0 L352.2 202.3 L354.0 203.6 L354.9 204.4 L355.5 205.0 L356.1 205.6 L360.0 205.5 L360.6 205.7 L361.2 205.3 L394.7 209.3 L395.3 209.1 L395.9 209.0 L396.5 208.8 L397.1 208.7 L397.7 208.5 L398.3 208.4 L398.9 208.2 L399.5 208.1 L420.2 207.9 L420.9 208.0 L423.0 208.3 L435.9 214.8 L437.2 216.5 L437.5 217.2 L437.9 217.8 L440.2 217.7 L443.5 218.1 L446.8 218.5 L447.1 217.7 L447.4 216.9 L448.3 216.2 L452.3 215.4 L449.0 217.4 L448.6 217.8 L448.3 218.2 L449.0 219.3 L449.9 220.0 L452.2 220.2 L471.6 220.2 L475.0 221.3 L478.6 222.9 L480.0 224.2 L482.4 223.8 L499.0 227.5 L500.0 226.3 L501.0 224.9 L503.2 227.6 L505.4 230.4 L506.0 232.0 L507.1 234.8 L512.8 235.3 L516.3 235.5 L519.0 235.3 L524.0 238.2 L532.0 243.5 L534.0 243.2 L536.8 243.2 L540.4 243.1 L544.0 243.0 L546.0 244.0 L555.0 247.5 L558.0 250.0 L562.2 253.4 L564.5 255.5 L566.0 257.5 L567.5 259.0 L569.0 260.5 L571.0 261.0 L585.8 262.2 L593.1 262.8 L596.6 262.3 L601.0 263.5 L603.0 264.8 L605.0 266.0 L615.0 269.5 L617.0 270.5 L619.0 270.2 L621.0 269.8 L623.0 269.5 L635.0 274.8 L637.0 276.3 L650.9 296.1 L652.4 297.9 L652.9 300.4 L653.4 302.9 L652.4 304.9 L651.4 306.9 L651.9 308.9 L652.4 310.9 L653.9 312.4 L655.4 313.9 L655.9 316.4 L656.4 318.9 L657.4 321.4 L658.4 323.9 L659.4 326.4 L660.4 328.9 L659.9 331.4 L659.4 333.9 L660.1 335.9 L660.9 337.9 L660.4 340.9 L662.4 342.4 L666.7 344.2 L670.3 344.6 L674.6 345.0 L678.2 345.4 L682.5 345.9 L686.1 346.2 L690.4 346.7 L694.0 347.1 L696.0 347.2 L698.0 347.4 L700.0 347.5 L704.3 347.5 L707.8 347.5 L712.1 347.5 L716.4 347.5 L720.7 347.5 L724.3 347.5 L728.6 347.5 L732.9 347.5 L736.4 347.5 L740.7 347.5 L745.0 347.5 L748.6 347.5 L752.9 347.5 L757.1 347.5 L761.4 347.5 L765.0 347.5 L769.3 347.5 L773.6 347.5 M208.9 280.9 L207.7 276.2 L206.7 270.7 L206.8 266.2 L207.3 262.5 L210.9 256.4 L214.8 253.7 L217.9 251.4 L222.4 248.9 L226.9 246.4 L231.3 243.9 L236.1 240.7 L240.7 235.6 L243.7 232.5 L246.7 229.5 L253.1 224.4 L257.2 222.1 L262.3 219.3 L266.2 217.6 L270.2 215.9 L274.7 214.9 L280.4 213.8 L285.0 214.3 L289.6 214.7 L293.7 215.9 L297.8 217.2 L303.3 215.8 L307.8 214.3 L311.3 212.1 L314.8 209.7 L318.2 207.3 L322.0 204.9 L325.8 202.6 L329.7 200.9 L333.7 199.3 L341.4 205.4 L342.2 211.0 L342.5 215.8 L341.5 220.5 L340.7 225.4 L338.3 227.1 L335.9 228.9 L333.9 229.1 L331.9 229.3 L329.9 229.4 L327.4 231.5 L325.0 233.5 L323.0 233.8 L321.0 234.0 L319.0 234.5 L317.0 235.0 L314.5 233.8 L311.9 230.9 L309.4 230.9 L306.8 230.1 L304.9 233.0 L303.0 235.0 L301.5 238.5 L301.8 240.5 L302.0 242.5 L303.2 244.2 L304.5 246.0 L308.0 247.0 L310.5 247.2 L313.0 247.5 L315.5 247.0 L318.0 246.5 L320.5 246.5 L323.0 246.5 L325.5 246.2 L328.0 246.0 L330.0 246.2 L332.0 246.3 L334.6 247.0 L338.1 247.7 L342.8 249.5 L346.3 250.3 L349.8 251.8 L352.7 252.7 L355.0 253.0 L358.8 252.8 L362.4 252.9 L366.0 253.0 L368.0 252.5 L370.0 252.0 L372.7 251.8 L376.0 251.2 L383.2 251.9 L387.5 251.1 L391.0 250.5 L395.2 248.2 L399.5 245.9 L414.9 247.2 L419.6 252.2 L419.5 255.2 L419.0 257.5 L422.0 259.5 L424.5 258.6 L427.0 257.7 L430.0 259.0 L436.0 256.5 L440.1 255.9 L452.0 255.5 L456.1 255.4 L461.0 255.5 L462.5 257.2 L464.0 259.0 L474.2 261.2 L477.0 261.8 L479.0 262.0 L480.0 258.5 L483.0 259.0 L484.5 260.5 L497.5 263.0 L499.5 264.2 L501.5 265.5 L504.0 265.2 L518.0 268.0 L520.5 267.8 L523.0 267.5 L524.5 269.2 L526.0 271.0 L527.3 272.7 L528.7 274.3 L549.0 284.7 L552.5 287.5 L556.2 290.2 L560.5 293.2 L563.0 294.5 L565.5 296.0 L568.0 297.5 L572.4 299.4 L576.0 301.0 L577.0 303.0 L578.0 305.0 L579.0 307.0 L578.5 310.0 L609.0 333.0 L611.0 334.0 L613.0 335.0 L613.0 337.0 L613.0 339.0 L619.0 350.0 L621.0 350.8 L623.3 352.2 L625.9 353.9 L628.1 354.9 L630.1 354.4 L632.4 354.6 L634.4 354.4 L636.7 355.0 L639.0 355.5 L641.4 359.4 L643.3 367.3 L644.0 371.5 L645.0 374.0 L646.4 378.9 L647.0 386.0 L648.0 388.0 L649.0 390.0 L652.5 393.0 L655.3 395.5 L658.0 397.0 L660.8 398.1 L664.3 398.4 L668.6 398.8 L672.2 399.1 L676.5 399.5 L680.8 399.9 L684.3 400.2 L688.6 400.5 L692.2 400.8 L696.5 401.2 L700.0 401.5 L704.3 401.5 L707.8 401.5 L712.1 401.5 L716.4 401.5 L720.7 401.5 L724.3 401.5 L728.6 401.5 L732.9 401.5 L736.4 401.5 L740.7 401.5 L745.0 401.5 L748.6 401.5 L752.9 401.5 L757.1 401.5 L761.4 401.5 L765.0 401.5 L769.3 401.5 L773.6 401.5 M207.0 291.5 L209.0 291.0 L211.0 290.5 L211.6 288.0 L212.2 285.5 L212.1 283.5 L211.9 281.5 L211.6 278.7 L210.9 275.0 L210.1 269.8 L209.9 265.5 L211.4 259.6 L213.9 254.8 L216.4 252.0 L219.0 249.3 L222.8 248.8 L226.5 248.2 L229.0 249.2 L231.5 250.3 L231.2 253.2 L231.8 255.8 L230.0 259.1 L248.5 267.1 L250.0 271.0 L250.5 273.5 L252.5 273.0 L254.5 272.5 L257.0 272.0 L259.5 271.5 L263.5 271.2 L267.5 271.0 L270.8 272.6 L274.0 275.8 L277.4 276.9 L280.0 278.0 L282.5 277.5 L287.5 276.5 L293.7 276.0 L298.2 276.0 L301.0 276.0 L304.7 275.8 L308.3 274.7 L315.0 273.8 L318.5 271.9 L322.0 270.0 L323.0 268.0 L325.6 265.8 L327.3 267.7 L329.6 269.6 L332.7 271.3 L340.6 272.2 L345.4 273.3 L349.0 273.2 L351.0 273.0 L354.5 271.2 L358.0 269.5 L362.9 269.6 L367.0 270.0 L380.5 272.2 L383.0 272.5 L385.5 272.2 L388.8 271.9 L393.7 273.1 L397.0 274.5 L412.0 278.5 L413.5 277.0 L416.0 279.0 L419.0 277.0 L421.5 277.2 L432.0 277.0 L434.0 278.2 L436.0 279.5 L437.0 282.0 L438.0 284.5 L457.3 289.5 L460.0 291.5 L462.0 292.2 L464.0 293.0 L466.0 293.2 L468.0 293.3 L472.4 293.8 L476.0 297.0 L476.5 299.5 L477.0 302.0 L491.0 306.0 L494.0 308.5 L494.2 310.5 L494.5 312.5 L514.0 322.0 L515.5 324.0 L517.7 326.4 L514.5 329.0 L514.2 332.9 L519.6 335.6 L521.3 333.9 L523.8 332.6 L527.5 332.5 L545.5 351.0 L547.0 352.5 L549.5 355.5 L547.5 358.0 L548.5 361.0 L550.5 362.5 L559.0 372.0 L563.5 376.2 L565.0 372.5 L565.0 368.5 L568.0 368.8 L571.0 369.0 L574.5 373.0 L577.0 374.5 L580.0 373.0 L582.0 370.5 L584.0 370.0 L586.0 372.5 L589.8 373.8 L593.4 373.4 L596.2 372.7 L598.5 376.5 L600.2 378.0 L604.4 379.8 L608.0 380.8 L626.0 393.5 L628.9 394.6 L632.2 396.4 L635.1 397.4 L638.0 398.5 L640.5 398.8 L644.2 400.2 L647.9 401.9 L651.0 403.0 L655.9 404.9 L660.0 406.5 L664.4 407.1 L668.0 407.5 L672.3 408.0 L676.6 408.4 L680.1 408.7 L684.4 409.1 L687.9 409.4 L692.2 409.8 L696.5 410.2 L700.0 410.5 L704.3 410.5 L707.8 410.5 L712.1 410.5 L716.4 410.5 L720.7 410.5 L724.3 410.5 L728.6 410.5 L732.9 410.5 L736.4 410.5 L740.7 410.5 L745.0 410.5 L748.6 410.5 L752.9 410.5 L757.1 410.5 L761.4 410.5 L765.0 410.5 L769.3 410.5 L773.6 410.5 M206.0 308.8 L208.0 309.5 L212.9 309.6 L217.0 310.0 L219.5 310.5 L222.0 311.0 L224.5 310.5 L227.0 310.0 L241.5 302.0 L246.4 300.4 L250.8 299.0 L265.5 300.3 L268.2 299.9 L271.6 299.9 L275.0 300.0 L277.2 301.0 L279.5 302.0 L279.2 304.0 L279.0 306.0 L279.2 308.5 L279.5 311.0 L281.2 309.8 L283.0 308.5 L286.7 307.3 L293.6 305.8 L298.0 305.0 L301.6 304.3 L306.0 303.7 L308.0 303.0 L310.0 301.8 L312.8 300.1 L317.4 300.8 L321.0 300.2 L336.3 299.5 L340.2 300.8 L342.5 301.5 L344.8 302.2 L347.8 302.9 L350.1 306.3 L355.0 305.5 L356.0 307.8 L357.0 310.0 L359.0 310.8 L372.5 310.2 L377.0 311.2 L389.0 314.5 L388.5 317.2 L388.0 320.0 L387.8 322.0 L387.5 324.0 L390.5 326.0 L393.5 328.0 L395.8 329.0 L398.0 330.0 L400.0 330.8 L423.3 340.5 L419.7 335.0 L423.0 335.0 L427.5 339.0 L427.8 341.0 L428.0 343.0 L430.0 344.2 L453.5 376.0 L452.5 378.5 L451.5 381.0 L452.0 383.5 L453.8 384.5 L455.5 385.5 L459.0 386.5 L461.5 384.5 L463.2 385.9 L465.0 387.2 L467.2 387.4 L469.3 387.5 L471.5 387.7 L474.0 387.6 L476.5 387.6 L479.0 387.5 L481.5 387.3 L484.0 387.2 L487.3 387.3 L492.0 387.5 L505.5 395.5 L508.0 396.0 L510.3 395.7 L512.7 395.3 L516.3 396.0 L520.2 397.5 L524.8 399.5 L529.5 402.0 L532.0 403.0 L534.0 406.0 L536.0 406.8 L538.0 407.5 L540.0 408.2 L542.0 409.0 L557.0 407.0 L559.0 407.5 L561.0 408.8 L563.0 410.0 L566.0 407.5 L580.0 405.8 L590.4 409.0 L594.0 407.5 L597.0 407.0 L601.6 407.6 L605.2 409.4 L608.0 410.8 L610.8 412.1 L615.3 414.8 L619.0 414.0 L622.7 413.2 L627.2 412.9 L630.8 412.6 L635.8 412.6 L641.7 412.8 L646.7 413.1 L651.7 413.5 L656.7 414.2 L660.8 414.6 L665.7 415.1 L670.6 415.7 L675.5 416.2 L680.2 416.7 L684.5 417.1 L688.8 417.5 L692.2 417.8 L696.5 418.2 L700.0 418.5 L704.3 418.5 L707.8 418.5 L712.1 418.5 L716.4 418.5 L720.7 418.5 L724.3 418.5 L728.6 418.5 L732.9 418.5 L736.4 418.5 L740.7 418.5 L745.0 418.5 L748.6 418.5 L752.9 418.5 L757.1 418.5 L761.4 418.5 L765.0 418.5 L769.3 418.5 L773.6 418.5 M166.0 342.0 L180.0 343.0 L200.0 341.0 L220.0 344.0 L240.0 347.0 L262.0 349.0 L280.0 353.0 L300.0 353.0 L320.0 353.0 L335.0 356.0 L343.0 365.0 L345.0 380.0 L350.0 392.0 L360.0 400.0 L371.0 399.0 L387.0 400.0 L398.0 411.0 L420.0 415.0 L442.0 422.0 L459.0 419.0 L470.0 420.0 L482.0 422.0 L492.0 422.0 L502.0 424.0 L514.0 427.0 L524.0 431.0 L534.0 430.0 L542.0 430.0 L550.0 432.0 L558.0 434.0 L564.0 438.0 L570.0 438.0 L578.0 435.0 L580.0 430.0 L586.0 430.0 L592.0 432.0 L598.0 428.0 L606.0 432.0 L620.0 431.0 L628.0 428.0 L640.0 426.0 L650.0 424.5 L660.0 424.0 L671.0 425.5 L681.0 426.0 L687.0 427.5 L700.0 429.0 M89.0 290.0 L96.0 283.0 L106.0 281.0 L118.0 283.0 L128.0 283.0 L136.0 281.0 L146.0 283.0 L154.0 278.0 L164.0 276.0 L174.0 278.0 L180.0 283.0 L186.0 291.0 L192.0 298.0 L200.0 303.6 M146.0 298.0 L154.0 290.0 L168.0 288.0 L176.0 294.0 L182.0 306.0 L184.0 316.0 L190.0 318.0 L174.0 328.0 L168.0 334.0 L156.0 334.0 L154.0 320.0 L150.0 310.0 M90.0 328.0 L102.0 331.6 L114.0 332.6 L126.0 330.0 L136.0 328.0 M238.0 404.0 L240.0 394.0 L246.0 388.0 L256.0 380.0 L266.0 379.0 L274.0 386.0 L284.0 388.0 L294.0 387.0 L306.0 388.0 L320.0 388.0 L334.0 390.0 L343.0 394.0 L348.0 404.0 M242.4 388.0 L250.0 380.0 L258.0 379.0 L268.0 384.0 L270.0 390.0 L260.0 394.0 L250.0 394.0Z M202.4 428.0 L203.0 434.0 L204.4 444.0 L205.6 452.0 L204.0 460.0 L200.0 470.0 L198.0 480.0 M627.0 441.0 L640.0 437.0 L660.0 434.0 L680.0 434.0 L695.0 440.0 L702.0 452.0 L700.0 465.0 L690.0 472.0 L670.0 474.0 L650.0 470.0 L636.0 466.0 L628.0 456.0Z M463.0 476.0 L469.0 485.0 L478.0 485.0 L492.0 486.0 L506.0 486.7 L520.0 485.0 L530.0 485.8 L540.0 482.0 L552.0 484.0 L560.0 492.0 L556.0 505.0 L545.0 515.0 L540.0 530.0 L530.0 545.0 L518.0 549.0" fill="none" stroke="#1a1a00" stroke-opacity="0.8" stroke-width="0.55" stroke-dasharray="3 4.5" stroke-linejoin="round"/>
<text transform="translate(450 130) rotate(0)" x="0" y="7" font-size="19.6" text-anchor="middle" fill="#000" stroke="#000" stroke-width="0.45">6</text>
<text transform="translate(487 117) rotate(0)" x="0" y="7" font-size="19.6" text-anchor="middle" fill="#000" stroke="#000" stroke-width="0.45">8</text>
<text transform="translate(524 132) rotate(8)" x="0" y="7" font-size="19.6" text-anchor="middle" fill="#000" stroke="#000" stroke-width="0.45">10</text>
<text transform="translate(566 147) rotate(0)" x="0" y="7" font-size="19.6" text-anchor="middle" fill="#000" stroke="#000" stroke-width="0.45">12</text>
<text transform="translate(481 169) rotate(-5)" x="0" y="7" font-size="19.6" text-anchor="middle" fill="#000" stroke="#000" stroke-width="0.45">14</text>
<text transform="translate(537 186) rotate(5)" x="0" y="7" font-size="19.6" text-anchor="middle" fill="#000" stroke="#000" stroke-width="0.45">16</text>
<text transform="translate(463 210) rotate(-15)" x="0" y="7" font-size="19.6" text-anchor="middle" fill="#000" stroke="#000" stroke-width="0.45">18</text>
<text transform="translate(519 226) rotate(5)" x="0" y="7" font-size="19.6" text-anchor="middle" fill="#000" stroke="#000" stroke-width="0.45">18</text>
<text transform="translate(560 271) rotate(38)" x="0" y="7" font-size="19.6" text-anchor="middle" fill="#000" stroke="#000" stroke-width="0.45">20</text>
<text transform="translate(573 327) rotate(0)" x="0" y="7" font-size="19.6" text-anchor="middle" fill="#000" stroke="#000" stroke-width="0.45">22</text>
<text transform="translate(660 297) rotate(-62)" x="0" y="7" font-size="19.6" text-anchor="middle" fill="#000" stroke="#000" stroke-width="0.45">18</text>
<text transform="translate(543 381) rotate(0)" x="0" y="7" font-size="19.6" text-anchor="middle" fill="#000" stroke="#000" stroke-width="0.45">24</text>
<text transform="translate(605 420) rotate(-45)" x="0" y="7" font-size="19.6" text-anchor="middle" fill="#000" stroke="#000" stroke-width="0.45">26</text>
<text transform="translate(474 467) rotate(-5)" x="0" y="7" font-size="19.6" text-anchor="middle" fill="#000" stroke="#000" stroke-width="0.45">28</text>
<text transform="translate(405 375) rotate(-82)" x="0" y="7" font-size="19.6" text-anchor="middle" fill="#000" stroke="#000" stroke-width="0.45">26</text>
<text transform="translate(342 315) rotate(5)" x="0" y="7" font-size="19.6" text-anchor="middle" fill="#000" stroke="#000" stroke-width="0.45">26</text>
<text transform="translate(293 291) rotate(-10)" x="0" y="7" font-size="19.6" text-anchor="middle" fill="#000" stroke="#000" stroke-width="0.45">24</text>
<text transform="translate(365 262) rotate(-55)" x="0" y="7" font-size="19.6" text-anchor="middle" fill="#000" stroke="#000" stroke-width="0.45">22</text>
<text transform="translate(317 243) rotate(75)" x="0" y="7" font-size="19.6" text-anchor="middle" fill="#000" stroke="#000" stroke-width="0.45">20</text>
<text transform="translate(248 238) rotate(-50)" x="0" y="7" font-size="19.6" text-anchor="middle" fill="#000" stroke="#000" stroke-width="0.45">22</text>
<text transform="translate(294 197) rotate(0)" x="0" y="7" font-size="19.6" text-anchor="middle" fill="#000" stroke="#000" stroke-width="0.45">6</text>
<text transform="translate(330 183) rotate(0)" x="0" y="7" font-size="19.6" text-anchor="middle" fill="#000" stroke="#000" stroke-width="0.45">8</text>
<text transform="translate(371 183) rotate(30)" x="0" y="7" font-size="19.6" text-anchor="middle" fill="#000" stroke="#000" stroke-width="0.45">10</text>
<text transform="translate(418 192) rotate(62)" x="0" y="7" font-size="19.6" text-anchor="middle" fill="#000" stroke="#000" stroke-width="0.45">12</text>
<text transform="translate(217 288) rotate(-85)" x="0" y="7" font-size="19.6" text-anchor="middle" fill="#000" stroke="#000" stroke-width="0.45">24</text>
<text transform="translate(170 309) rotate(38)" x="0" y="7" font-size="19.6" text-anchor="middle" fill="#000" stroke="#000" stroke-width="0.45">26</text>
<text transform="translate(190 461) rotate(-50)" x="0" y="7" font-size="19.6" text-anchor="middle" fill="#000" stroke="#000" stroke-width="0.45">28</text>
<text transform="translate(162 396) rotate(55)" x="0" y="7" font-size="19.6" text-anchor="middle" fill="#000" stroke="#000" stroke-width="0.45">24</text>
<text transform="translate(202 516) rotate(-80)" x="0" y="7" font-size="19.6" text-anchor="middle" fill="#000" stroke="#000" stroke-width="0.45">24</text>
<text transform="translate(648 372) rotate(-80)" x="0" y="7" font-size="19.6" text-anchor="middle" fill="#000" stroke="#000" stroke-width="0.45">20</text>
<path d="M195.6 106.4 L203.0 105.6 L203.6 108.0 L198.0 109.0Z M70.0 92.0 L368.0 92.0 L368.0 92.0 L370.0 97.0 L377.0 101.0 L380.0 107.0 L378.4 112.0 L375.0 114.4 L370.0 117.0 L362.0 120.4 L354.0 123.6 L346.0 125.2 L334.0 126.0 L322.0 126.0 L310.0 126.4 L300.0 128.0 L292.0 133.0 L284.0 139.0 L277.0 145.0 L272.4 149.6 L275.0 148.8 L282.0 142.4 L290.0 136.4 L298.0 133.4 L308.0 132.4 L316.0 133.0 L320.0 136.4 L318.0 139.6 L312.0 140.6 L306.0 141.0 L310.0 143.0 L315.0 146.0 L318.0 151.0 L321.0 155.0 L324.0 156.4 L320.0 158.0 L318.0 159.0 L312.0 160.0 L304.0 162.4 L296.0 165.6 L288.0 169.6 L281.0 175.0 L278.0 180.0 L280.0 183.0 L279.6 185.0 L277.6 186.0 L275.0 187.6 L270.0 188.0 L262.0 189.2 L254.0 191.0 L250.0 193.0 L250.0 196.0 L247.6 200.0 L245.0 204.0 L242.0 205.6 L244.0 209.0 L241.0 214.0 L239.0 220.0 L240.0 224.0 L239.0 227.0 L241.4 231.0 L234.0 235.0 L228.0 238.0 L222.0 241.0 L216.0 246.0 L210.0 249.0 L205.0 253.0 L202.0 257.0 L200.0 263.0 L201.0 270.0 L203.0 276.0 L206.4 283.0 L208.0 288.0 L209.6 294.0 L209.0 299.0 L206.0 302.0 L203.0 302.4 L199.6 299.6 L197.0 295.0 L195.0 291.0 L192.4 286.0 L191.0 281.0 L192.0 277.0 L189.0 272.0 L187.0 269.0 L184.0 267.0 L180.0 266.0 L175.0 267.0 L170.0 265.6 L162.0 264.4 L158.0 265.0 L153.0 264.4 L147.0 266.0 L145.0 270.0 L147.0 273.6 L144.4 273.0 L143.0 270.0 L139.0 267.0 L138.0 265.0 L130.0 269.0 L120.0 268.0 L112.0 269.6 L104.0 271.0 L98.0 275.0 L93.0 279.0 L89.0 283.0 L88.0 290.0 L90.0 296.0 L87.0 300.0 L85.6 308.0 L87.0 316.0 L89.0 324.0 L92.0 332.0 L95.0 338.0 L100.0 343.0 L106.0 348.0 L112.0 349.0 L120.0 347.0 L128.0 345.0 L134.0 341.0 L136.0 335.0 L137.6 330.0 L140.0 328.0 L147.0 327.6 L154.0 326.4 L159.0 325.0 L162.0 327.0 L162.4 331.0 L160.0 335.0 L158.0 340.0 L156.0 346.0 L154.0 352.0 L151.0 358.0 L149.0 363.0 L148.0 366.4 L154.0 366.0 L164.0 366.0 L174.0 365.6 L180.0 367.6 L184.0 371.0 L187.0 376.0 L188.0 380.0 L187.0 378.0 L186.0 386.0 L184.0 394.0 L184.0 400.0 L187.0 406.0 L192.0 412.0 L198.0 415.6 L204.0 417.0 L210.0 414.0 L216.0 411.4 L222.0 411.4 L228.0 413.0 L231.0 417.0 L232.0 420.0 L234.0 417.0 L238.0 412.0 L241.0 406.0 L246.0 402.0 L253.0 399.0 L260.0 397.0 L266.0 393.0 L270.0 391.0 L272.4 393.0 L271.0 397.0 L267.6 398.4 L269.4 402.0 L272.9 400.2 L278.2 397.6 L281.7 394.9 L288.8 397.6 L292.3 402.0 L299.3 402.8 L306.4 401.1 L311.7 404.6 L320.6 402.8 L329.4 403.7 L334.7 405.5 L340.0 409.9 L343.5 416.1 L347.9 418.7 L354.1 420.5 L360.3 426.7 L364.7 431.1 L370.8 436.4 L380.5 438.1 L389.4 439.0 L400.0 441.7 L405.3 445.2 L411.5 449.6 L415.0 457.6 L417.6 463.7 L420.3 468.1 L418.5 473.4 L415.0 477.0 L410.6 482.3 L409.7 487.5 L417.6 489.3 L424.7 493.7 L426.5 491.0 L431.7 484.9 L442.3 483.1 L451.1 486.7 L457.3 491.1 L460.8 496.4 L470.5 496.4 L479.4 498.1 L490.0 499.0 L498.8 503.4 L509.3 510.5 L518.2 514.0 L523.5 519.3 L525.6 526.3 L525.2 533.4 L523.5 540.5 L519.9 548.0 L221.9 548.0 L219.6 540.5 L216.3 533.8 L211.8 527.0 L207.3 520.3 L205.0 513.5 L203.9 504.5 L207.3 501.1 L211.8 496.6 L207.3 493.3 L205.0 486.5 L208.4 478.6 L210.0 475.0 L214.0 470.0 L218.0 465.0 L223.0 459.0 L226.0 455.0 L230.0 450.0 L229.6 444.0 L228.0 436.0 L229.0 430.0 L228.0 424.0 L225.6 419.0 L221.0 416.0 L215.0 415.0 L210.0 417.0 L207.0 422.0 L205.6 427.0 L203.0 424.0 L199.0 421.0 L194.0 419.6 L190.0 417.0 L184.0 412.0 L178.0 409.0 L173.0 406.0 L169.0 401.0 L165.0 395.0 L160.0 388.0 L156.0 384.0 L150.0 385.0 L140.0 382.0 L130.0 379.0 L123.0 380.0 L120.0 376.0 L115.0 370.0 L110.0 366.4 L104.0 365.0 L98.0 368.0 L95.0 371.0 L88.0 366.4 L78.0 362.4 L70.0 359.0 L70.0 359.0Z M355.0 143.0 L358.0 139.0 L363.0 134.0 L368.0 130.0 L371.0 124.0 L374.0 119.0 L378.0 117.0 L381.0 116.0 L379.6 120.0 L377.0 125.0 L375.6 128.0 L382.0 130.0 L390.0 131.0 L395.0 133.0 L394.4 137.0 L392.0 138.4 L398.0 140.0 L400.0 143.0 L401.6 147.0 L400.0 150.0 L397.0 151.0 L394.0 150.0 L392.4 146.0 L390.0 144.4 L386.0 145.6 L383.0 147.6 L379.0 148.4 L380.0 145.6 L374.0 144.4 L366.0 144.4 L359.0 144.4Z M308.0 167.0 L312.0 164.0 L318.0 162.0 L320.4 157.6 L323.6 156.8 L325.0 160.0 L332.0 159.0 L339.0 158.0 L341.0 156.0 L342.0 152.0 L346.0 149.0 L349.0 153.0 L351.0 155.6 L347.0 157.6 L342.0 159.0 L338.0 161.0 L330.0 164.4 L322.0 167.6 L315.0 171.6 L310.0 171.6 L307.6 169.6Z M320.0 129.0 L326.0 128.4 L334.0 130.4 L338.0 132.6 L333.0 133.0 L326.0 131.6Z M320.0 151.6 L325.0 152.4 L331.0 152.0 L335.0 151.6 L333.0 154.0 L326.0 154.4 L321.0 153.6Z M178.0 323.0 L181.0 319.0 L188.0 316.0 L196.0 315.6 L204.0 317.0 L212.0 320.0 L220.0 321.6 L227.0 325.0 L233.0 328.0 L240.0 331.0 L247.0 334.0 L250.0 336.4 L246.0 337.6 L238.0 337.6 L231.0 337.6 L227.0 336.0 L225.0 333.0 L220.0 330.0 L214.0 327.0 L208.0 324.4 L200.0 322.4 L194.0 321.0 L186.0 322.0 L182.0 324.0Z M256.0 339.0 L260.0 337.6 L268.0 337.6 L276.0 339.0 L283.0 342.0 L288.0 345.0 L291.0 348.0 L288.0 349.6 L281.0 348.4 L278.0 350.0 L274.0 350.4 L271.0 353.0 L268.0 350.0 L262.0 349.0 L256.0 350.0 L250.0 350.0 L249.6 348.0 L256.0 347.0 L261.0 345.6 L259.0 343.0 L257.0 341.0Z M222.0 348.4 L226.0 347.0 L232.0 347.6 L235.6 350.0 L233.0 352.4 L227.0 352.4 L223.0 351.0Z M299.6 348.0 L305.0 347.0 L309.6 348.0 L309.0 351.0 L304.0 351.6 L300.0 351.0Z M339.0 402.0 L342.4 401.0 L343.0 406.0 L339.6 407.0Z M772.0 129.9 L769.9 129.9 L760.2 129.4 L757.6 131.7 L758.5 134.3 L748.8 135.7 L738.2 138.7 L740.0 141.4 L748.8 144.0 L755.8 146.7 L758.5 152.0 L762.9 155.5 L765.5 159.9 L762.9 161.7 L762.9 169.6 L760.2 173.5 L757.6 174.5 L748.8 174.0 L734.7 173.1 L724.1 172.2 L715.3 171.7 L709.1 174.9 L707.3 178.4 L710.0 183.7 L709.1 190.8 L708.2 197.8 L706.1 204.0 L708.2 207.5 L710.9 209.3 L709.1 213.7 L708.2 218.1 L709.4 215.5 L714.7 217.3 L721.7 217.3 L726.1 220.8 L730.5 225.2 L735.8 221.7 L744.6 219.9 L753.5 218.2 L760.5 214.7 L764.0 212.0 L767.0 208.0 L772.0 204.0Z M696.7 114.9 L698.5 106.1 L696.7 99.0 L700.3 93.8 L710.0 92.0 L727.6 92.0 L730.2 97.3 L727.6 104.3 L725.8 109.6 L720.5 112.3 L711.7 114.0 L702.9 118.5 L697.6 118.5Z M741.7 92.0 L751.4 99.0 L746.1 102.6 L740.8 107.0 L742.6 110.5 L734.7 114.0 L741.7 115.8 L752.3 116.7 L751.4 118.5 L739.1 121.6 L732.0 127.3 L743.5 124.6 L755.8 123.4 L771.7 122.3 L771.7 92.0Z M730.5 225.2 L727.9 231.4 L721.7 238.5 L714.7 242.9 L707.6 249.0 L703.2 256.1 L701.4 261.4 L702.3 266.7 L697.9 272.9 L690.0 278.1 L681.1 282.6 L674.1 289.6 L668.8 295.8 L662.6 305.5 L658.2 312.5 L654.7 319.6 L652.0 326.6 L653.8 331.9 L656.5 335.5 L655.6 342.0 L658.2 350.8 L655.6 358.8 L651.2 364.9 L648.5 373.8 L652.0 379.9 L652.9 387.9 L655.6 394.0 L658.2 396.7 L663.5 399.3 L667.9 402.0 L671.5 407.3 L675.9 412.6 L679.4 419.6 L684.7 424.9 L690.0 428.4 L697.0 433.7 L704.1 439.9 L711.1 444.3 L718.2 446.1 L725.2 443.4 L734.1 441.1 L742.9 441.1 L751.7 442.5 L757.0 443.4 L764.0 440.8 L771.1 438.6 L772.0 438.0 L772.0 226.0 L770.0 226.1 L760.5 228.8 L749.9 231.1 L739.4 230.5 L734.1 227.9Z M220.5 300.5 L223.0 300.0 L225.5 304.0 L226.0 308.5 L224.5 309.5 L222.8 306.0Z M230.0 287.0 L231.6 286.6 L232.8 290.0 L231.6 292.6 L230.6 290.5Z M651.0 247.0 L654.0 246.5 L654.5 248.5 L651.5 249.0Z M653.0 278.0 L656.0 277.5 L656.5 280.0 L653.5 280.5Z M660.0 281.0 L663.0 280.5 L663.5 283.0 L660.5 283.5Z M670.0 279.0 L675.0 273.5 L676.5 274.5 L672.0 280.5Z M340.5 368.5 L342.3 368.0 L342.6 370.6 L340.8 371.0Z M342.4 377.4 L343.8 377.0 L344.1 379.6 L342.7 380.0Z" fill="#d3d3d3" stroke="#222" stroke-width="1" stroke-linejoin="round"/>
<path d="M195.6 106.4 L203.0 105.6 L203.6 108.0 L198.0 109.0Z M70.0 92.0 L368.0 92.0 L368.0 92.0 L370.0 97.0 L377.0 101.0 L380.0 107.0 L378.4 112.0 L375.0 114.4 L370.0 117.0 L362.0 120.4 L354.0 123.6 L346.0 125.2 L334.0 126.0 L322.0 126.0 L310.0 126.4 L300.0 128.0 L292.0 133.0 L284.0 139.0 L277.0 145.0 L272.4 149.6 L275.0 148.8 L282.0 142.4 L290.0 136.4 L298.0 133.4 L308.0 132.4 L316.0 133.0 L320.0 136.4 L318.0 139.6 L312.0 140.6 L306.0 141.0 L310.0 143.0 L315.0 146.0 L318.0 151.0 L321.0 155.0 L324.0 156.4 L320.0 158.0 L318.0 159.0 L312.0 160.0 L304.0 162.4 L296.0 165.6 L288.0 169.6 L281.0 175.0 L278.0 180.0 L280.0 183.0 L279.6 185.0 L277.6 186.0 L275.0 187.6 L270.0 188.0 L262.0 189.2 L254.0 191.0 L250.0 193.0 L250.0 196.0 L247.6 200.0 L245.0 204.0 L242.0 205.6 L244.0 209.0 L241.0 214.0 L239.0 220.0 L240.0 224.0 L239.0 227.0 L241.4 231.0 L234.0 235.0 L228.0 238.0 L222.0 241.0 L216.0 246.0 L210.0 249.0 L205.0 253.0 L202.0 257.0 L200.0 263.0 L201.0 270.0 L203.0 276.0 L206.4 283.0 L208.0 288.0 L209.6 294.0 L209.0 299.0 L206.0 302.0 L203.0 302.4 L199.6 299.6 L197.0 295.0 L195.0 291.0 L192.4 286.0 L191.0 281.0 L192.0 277.0 L189.0 272.0 L187.0 269.0 L184.0 267.0 L180.0 266.0 L175.0 267.0 L170.0 265.6 L162.0 264.4 L158.0 265.0 L153.0 264.4 L147.0 266.0 L145.0 270.0 L147.0 273.6 L144.4 273.0 L143.0 270.0 L139.0 267.0 L138.0 265.0 L130.0 269.0 L120.0 268.0 L112.0 269.6 L104.0 271.0 L98.0 275.0 L93.0 279.0 L89.0 283.0 L88.0 290.0 L90.0 296.0 L87.0 300.0 L85.6 308.0 L87.0 316.0 L89.0 324.0 L92.0 332.0 L95.0 338.0 L100.0 343.0 L106.0 348.0 L112.0 349.0 L120.0 347.0 L128.0 345.0 L134.0 341.0 L136.0 335.0 L137.6 330.0 L140.0 328.0 L147.0 327.6 L154.0 326.4 L159.0 325.0 L162.0 327.0 L162.4 331.0 L160.0 335.0 L158.0 340.0 L156.0 346.0 L154.0 352.0 L151.0 358.0 L149.0 363.0 L148.0 366.4 L154.0 366.0 L164.0 366.0 L174.0 365.6 L180.0 367.6 L184.0 371.0 L187.0 376.0 L188.0 380.0 L187.0 378.0 L186.0 386.0 L184.0 394.0 L184.0 400.0 L187.0 406.0 L192.0 412.0 L198.0 415.6 L204.0 417.0 L210.0 414.0 L216.0 411.4 L222.0 411.4 L228.0 413.0 L231.0 417.0 L232.0 420.0 L234.0 417.0 L238.0 412.0 L241.0 406.0 L246.0 402.0 L253.0 399.0 L260.0 397.0 L266.0 393.0 L270.0 391.0 L272.4 393.0 L271.0 397.0 L267.6 398.4 L269.4 402.0 L272.9 400.2 L278.2 397.6 L281.7 394.9 L288.8 397.6 L292.3 402.0 L299.3 402.8 L306.4 401.1 L311.7 404.6 L320.6 402.8 L329.4 403.7 L334.7 405.5 L340.0 409.9 L343.5 416.1 L347.9 418.7 L354.1 420.5 L360.3 426.7 L364.7 431.1 L370.8 436.4 L380.5 438.1 L389.4 439.0 L400.0 441.7 L405.3 445.2 L411.5 449.6 L415.0 457.6 L417.6 463.7 L420.3 468.1 L418.5 473.4 L415.0 477.0 L410.6 482.3 L409.7 487.5 L417.6 489.3 L424.7 493.7 L426.5 491.0 L431.7 484.9 L442.3 483.1 L451.1 486.7 L457.3 491.1 L460.8 496.4 L470.5 496.4 L479.4 498.1 L490.0 499.0 L498.8 503.4 L509.3 510.5 L518.2 514.0 L523.5 519.3 L525.6 526.3 L525.2 533.4 L523.5 540.5 L519.9 548.0 L221.9 548.0 L219.6 540.5 L216.3 533.8 L211.8 527.0 L207.3 520.3 L205.0 513.5 L203.9 504.5 L207.3 501.1 L211.8 496.6 L207.3 493.3 L205.0 486.5 L208.4 478.6 L210.0 475.0 L214.0 470.0 L218.0 465.0 L223.0 459.0 L226.0 455.0 L230.0 450.0 L229.6 444.0 L228.0 436.0 L229.0 430.0 L228.0 424.0 L225.6 419.0 L221.0 416.0 L215.0 415.0 L210.0 417.0 L207.0 422.0 L205.6 427.0 L203.0 424.0 L199.0 421.0 L194.0 419.6 L190.0 417.0 L184.0 412.0 L178.0 409.0 L173.0 406.0 L169.0 401.0 L165.0 395.0 L160.0 388.0 L156.0 384.0 L150.0 385.0 L140.0 382.0 L130.0 379.0 L123.0 380.0 L120.0 376.0 L115.0 370.0 L110.0 366.4 L104.0 365.0 L98.0 368.0 L95.0 371.0 L88.0 366.4 L78.0 362.4 L70.0 359.0 L70.0 359.0Z M355.0 143.0 L358.0 139.0 L363.0 134.0 L368.0 130.0 L371.0 124.0 L374.0 119.0 L378.0 117.0 L381.0 116.0 L379.6 120.0 L377.0 125.0 L375.6 128.0 L382.0 130.0 L390.0 131.0 L395.0 133.0 L394.4 137.0 L392.0 138.4 L398.0 140.0 L400.0 143.0 L401.6 147.0 L400.0 150.0 L397.0 151.0 L394.0 150.0 L392.4 146.0 L390.0 144.4 L386.0 145.6 L383.0 147.6 L379.0 148.4 L380.0 145.6 L374.0 144.4 L366.0 144.4 L359.0 144.4Z M308.0 167.0 L312.0 164.0 L318.0 162.0 L320.4 157.6 L323.6 156.8 L325.0 160.0 L332.0 159.0 L339.0 158.0 L341.0 156.0 L342.0 152.0 L346.0 149.0 L349.0 153.0 L351.0 155.6 L347.0 157.6 L342.0 159.0 L338.0 161.0 L330.0 164.4 L322.0 167.6 L315.0 171.6 L310.0 171.6 L307.6 169.6Z M320.0 129.0 L326.0 128.4 L334.0 130.4 L338.0 132.6 L333.0 133.0 L326.0 131.6Z M320.0 151.6 L325.0 152.4 L331.0 152.0 L335.0 151.6 L333.0 154.0 L326.0 154.4 L321.0 153.6Z M178.0 323.0 L181.0 319.0 L188.0 316.0 L196.0 315.6 L204.0 317.0 L212.0 320.0 L220.0 321.6 L227.0 325.0 L233.0 328.0 L240.0 331.0 L247.0 334.0 L250.0 336.4 L246.0 337.6 L238.0 337.6 L231.0 337.6 L227.0 336.0 L225.0 333.0 L220.0 330.0 L214.0 327.0 L208.0 324.4 L200.0 322.4 L194.0 321.0 L186.0 322.0 L182.0 324.0Z M256.0 339.0 L260.0 337.6 L268.0 337.6 L276.0 339.0 L283.0 342.0 L288.0 345.0 L291.0 348.0 L288.0 349.6 L281.0 348.4 L278.0 350.0 L274.0 350.4 L271.0 353.0 L268.0 350.0 L262.0 349.0 L256.0 350.0 L250.0 350.0 L249.6 348.0 L256.0 347.0 L261.0 345.6 L259.0 343.0 L257.0 341.0Z M222.0 348.4 L226.0 347.0 L232.0 347.6 L235.6 350.0 L233.0 352.4 L227.0 352.4 L223.0 351.0Z M299.6 348.0 L305.0 347.0 L309.6 348.0 L309.0 351.0 L304.0 351.6 L300.0 351.0Z M339.0 402.0 L342.4 401.0 L343.0 406.0 L339.6 407.0Z M772.0 129.9 L769.9 129.9 L760.2 129.4 L757.6 131.7 L758.5 134.3 L748.8 135.7 L738.2 138.7 L740.0 141.4 L748.8 144.0 L755.8 146.7 L758.5 152.0 L762.9 155.5 L765.5 159.9 L762.9 161.7 L762.9 169.6 L760.2 173.5 L757.6 174.5 L748.8 174.0 L734.7 173.1 L724.1 172.2 L715.3 171.7 L709.1 174.9 L707.3 178.4 L710.0 183.7 L709.1 190.8 L708.2 197.8 L706.1 204.0 L708.2 207.5 L710.9 209.3 L709.1 213.7 L708.2 218.1 L709.4 215.5 L714.7 217.3 L721.7 217.3 L726.1 220.8 L730.5 225.2 L735.8 221.7 L744.6 219.9 L753.5 218.2 L760.5 214.7 L764.0 212.0 L767.0 208.0 L772.0 204.0Z M696.7 114.9 L698.5 106.1 L696.7 99.0 L700.3 93.8 L710.0 92.0 L727.6 92.0 L730.2 97.3 L727.6 104.3 L725.8 109.6 L720.5 112.3 L711.7 114.0 L702.9 118.5 L697.6 118.5Z M741.7 92.0 L751.4 99.0 L746.1 102.6 L740.8 107.0 L742.6 110.5 L734.7 114.0 L741.7 115.8 L752.3 116.7 L751.4 118.5 L739.1 121.6 L732.0 127.3 L743.5 124.6 L755.8 123.4 L771.7 122.3 L771.7 92.0Z M730.5 225.2 L727.9 231.4 L721.7 238.5 L714.7 242.9 L707.6 249.0 L703.2 256.1 L701.4 261.4 L702.3 266.7 L697.9 272.9 L690.0 278.1 L681.1 282.6 L674.1 289.6 L668.8 295.8 L662.6 305.5 L658.2 312.5 L654.7 319.6 L652.0 326.6 L653.8 331.9 L656.5 335.5 L655.6 342.0 L658.2 350.8 L655.6 358.8 L651.2 364.9 L648.5 373.8 L652.0 379.9 L652.9 387.9 L655.6 394.0 L658.2 396.7 L663.5 399.3 L667.9 402.0 L671.5 407.3 L675.9 412.6 L679.4 419.6 L684.7 424.9 L690.0 428.4 L697.0 433.7 L704.1 439.9 L711.1 444.3 L718.2 446.1 L725.2 443.4 L734.1 441.1 L742.9 441.1 L751.7 442.5 L757.0 443.4 L764.0 440.8 L771.1 438.6 L772.0 438.0 L772.0 226.0 L770.0 226.1 L760.5 228.8 L749.9 231.1 L739.4 230.5 L734.1 227.9Z M220.5 300.5 L223.0 300.0 L225.5 304.0 L226.0 308.5 L224.5 309.5 L222.8 306.0Z M230.0 287.0 L231.6 286.6 L232.8 290.0 L231.6 292.6 L230.6 290.5Z M651.0 247.0 L654.0 246.5 L654.5 248.5 L651.5 249.0Z M653.0 278.0 L656.0 277.5 L656.5 280.0 L653.5 280.5Z M660.0 281.0 L663.0 280.5 L663.5 283.0 L660.5 283.5Z M670.0 279.0 L675.0 273.5 L676.5 274.5 L672.0 280.5Z M340.5 368.5 L342.3 368.0 L342.6 370.6 L340.8 371.0Z M342.4 377.4 L343.8 377.0 L344.1 379.6 L342.7 380.0Z" fill="#d3d3d3" stroke="none"/>
<path d="M75.6 103.0 L79.0 100.0 L85.0 99.6 L88.0 104.0 L90.0 111.0 L93.6 115.6 L96.0 117.0 L97.0 121.0 L95.0 124.0 L91.6 124.0 L91.0 120.0 L91.6 117.0 L87.0 113.6 L82.0 110.4 L78.0 107.0Z M72.0 116.0 L78.0 115.0 L79.6 120.0 L83.6 125.0 L81.0 126.4 L77.6 123.0 L75.0 119.0Z M70.0 107.0 L72.4 108.0 L72.0 113.0 L70.0 115.6Z M125.0 150.0 L130.0 146.4 L139.0 142.0 L146.0 139.0 L152.0 135.0 L161.0 135.6 L166.0 139.0 L168.0 143.0 L175.0 142.4 L177.0 147.0 L179.6 151.0 L176.0 152.0 L170.0 151.6 L164.0 152.0 L158.0 149.0 L153.0 149.6 L150.0 148.0 L143.0 150.4 L135.0 151.6 L129.0 151.0Z M154.0 165.0 L158.0 160.0 L164.0 156.4 L173.0 155.0 L179.0 156.0 L175.0 159.0 L171.0 161.0 L168.4 165.0 L166.0 170.0 L167.0 177.0 L165.6 183.0 L161.0 186.4 L157.0 184.4 L155.0 178.0 L155.0 171.0Z M179.0 156.0 L185.0 154.4 L194.0 155.0 L201.0 156.0 L207.0 159.0 L211.0 162.4 L210.0 165.6 L205.0 164.0 L201.0 161.0 L198.0 160.0 L200.0 166.0 L199.0 172.0 L195.0 176.0 L192.0 174.0 L190.0 169.0 L187.0 169.0 L184.4 172.0 L182.0 171.0 L183.0 167.6 L186.4 165.0 L185.6 160.0 L182.0 157.6Z M185.6 184.4 L190.0 179.0 L193.0 181.0 L200.0 179.6 L210.0 177.6 L218.0 177.0 L217.0 179.6 L210.0 181.6 L203.0 184.4 L195.0 187.6 L189.0 187.0Z M211.0 174.0 L215.0 171.0 L222.0 170.0 L230.0 169.0 L237.0 167.6 L235.6 170.4 L233.0 172.4 L224.0 174.4 L217.0 175.6 L212.4 176.0Z M193.0 92.0 L219.0 92.0 L217.0 100.0 L219.0 108.0 L220.4 112.0 L224.4 111.0 L220.4 114.4 L217.6 117.6 L214.0 119.0 L210.0 117.6 L206.0 119.6 L202.0 120.0 L204.4 117.6 L200.0 114.0 L195.6 112.0 L198.0 110.4 L195.0 106.0 L193.6 100.0Z" fill="#00ccff" stroke="#0a3a4a" stroke-width="0.8" stroke-linejoin="round"/>
<path d="M103.0 131.0 L106.0 129.0 L111.0 129.6 L112.0 132.0 L109.0 134.0 L104.0 135.0Z M115.6 135.0 L118.0 135.0 L123.0 137.6 L121.0 139.0 L117.0 137.6Z" fill="#0b6f8f" stroke="#123" stroke-width="0.8"/>
<path d="M267.0 407.0 L269.0 405.0 L271.6 407.0 L272.4 411.0 L270.4 414.4 L267.6 413.6 L266.0 410.0Z" fill="#ffa600" stroke="#222" stroke-width="0.5"/>
<path d="M195.6 106.4 L203.0 105.6 L203.6 108.0 L198.0 109.0Z" fill="#d3d3d3" stroke="#222" stroke-width="0.4"/>
<path d="M757 417 l2.5 3 l-1.5 3 l3 2 l-1 4 l3 3 l-1 3 l3 2 M760.5 425 l4 -1 M763 432 l4 1" fill="none" stroke="#1a3a44" stroke-width="1.1"/><path d="M343 101 L348 100 L356 98.5 L362 97" fill="none" stroke="#0a4a6a" stroke-width="1.2"/><path d="M184 373 L188 365 L196 363 L192 358 L194 353 L208 352 L211 347 M146 374 L150 366 L160 363 L156 358 L158 353" fill="none" stroke="#555" stroke-width="0.5"/><path d="M256 163 L257.5 169" fill="none" stroke="#123" stroke-width="1"/>
<line x1="140.0" y1="92.5" x2="140.0" y2="547.5" stroke="#555" stroke-opacity="0.55" stroke-width="0.9"/>
<line x1="210.0" y1="92.5" x2="210.0" y2="547.5" stroke="#555" stroke-opacity="0.55" stroke-width="0.9"/>
<line x1="280.0" y1="92.5" x2="280.0" y2="547.5" stroke="#555" stroke-opacity="0.55" stroke-width="0.9"/>
<line x1="350.0" y1="92.5" x2="350.0" y2="547.5" stroke="#555" stroke-opacity="0.55" stroke-width="0.9"/>
<line x1="420.0" y1="92.5" x2="420.0" y2="547.5" stroke="#555" stroke-opacity="0.55" stroke-width="0.9"/>
<line x1="490.0" y1="92.5" x2="490.0" y2="547.5" stroke="#555" stroke-opacity="0.55" stroke-width="0.9"/>
<line x1="560.0" y1="92.5" x2="560.0" y2="547.5" stroke="#555" stroke-opacity="0.55" stroke-width="0.9"/>
<line x1="630.0" y1="92.5" x2="630.0" y2="547.5" stroke="#555" stroke-opacity="0.55" stroke-width="0.9"/>
<line x1="700.0" y1="92.5" x2="700.0" y2="547.5" stroke="#555" stroke-opacity="0.55" stroke-width="0.9"/>
<line x1="70.0" y1="477.5" x2="770.0" y2="477.5" stroke="#555" stroke-opacity="0.55" stroke-width="0.9"/>
<line x1="70.0" y1="407.5" x2="770.0" y2="407.5" stroke="#555" stroke-opacity="0.55" stroke-width="0.9"/>
<line x1="70.0" y1="337.5" x2="770.0" y2="337.5" stroke="#555" stroke-opacity="0.55" stroke-width="0.9"/>
<line x1="70.0" y1="267.5" x2="770.0" y2="267.5" stroke="#555" stroke-opacity="0.55" stroke-width="0.9"/>
<line x1="70.0" y1="197.5" x2="770.0" y2="197.5" stroke="#555" stroke-opacity="0.55" stroke-width="0.9"/>
<line x1="70.0" y1="127.5" x2="770.0" y2="127.5" stroke="#555" stroke-opacity="0.55" stroke-width="0.9"/>
</g>
<rect x="70.0" y="92.5" width="700.0" height="455.0" fill="none" stroke="#000" stroke-width="1.3"/>
<line x1="70.0" y1="92.5" x2="70.0" y2="77.5" stroke="#000" stroke-width="1.3"/>
<line x1="70.0" y1="547.5" x2="70.0" y2="562.5" stroke="#000" stroke-width="1.3"/>
<text x="70.0" y="585.7" font-size="15.7" text-anchor="middle">100W</text>
<line x1="140.0" y1="92.5" x2="140.0" y2="77.5" stroke="#000" stroke-width="1.3"/>
<line x1="140.0" y1="547.5" x2="140.0" y2="562.5" stroke="#000" stroke-width="1.3"/>
<text x="140.0" y="585.7" font-size="15.7" text-anchor="middle">90W</text>
<line x1="210.0" y1="92.5" x2="210.0" y2="77.5" stroke="#000" stroke-width="1.3"/>
<line x1="210.0" y1="547.5" x2="210.0" y2="562.5" stroke="#000" stroke-width="1.3"/>
<text x="210.0" y="585.7" font-size="15.7" text-anchor="middle">80W</text>
<line x1="280.0" y1="92.5" x2="280.0" y2="77.5" stroke="#000" stroke-width="1.3"/>
<line x1="280.0" y1="547.5" x2="280.0" y2="562.5" stroke="#000" stroke-width="1.3"/>
<text x="280.0" y="585.7" font-size="15.7" text-anchor="middle">70W</text>
<line x1="350.0" y1="92.5" x2="350.0" y2="77.5" stroke="#000" stroke-width="1.3"/>
<line x1="350.0" y1="547.5" x2="350.0" y2="562.5" stroke="#000" stroke-width="1.3"/>
<text x="350.0" y="585.7" font-size="15.7" text-anchor="middle">60W</text>
<line x1="420.0" y1="92.5" x2="420.0" y2="77.5" stroke="#000" stroke-width="1.3"/>
<line x1="420.0" y1="547.5" x2="420.0" y2="562.5" stroke="#000" stroke-width="1.3"/>
<text x="420.0" y="585.7" font-size="15.7" text-anchor="middle">50W</text>
<line x1="490.0" y1="92.5" x2="490.0" y2="77.5" stroke="#000" stroke-width="1.3"/>
<line x1="490.0" y1="547.5" x2="490.0" y2="562.5" stroke="#000" stroke-width="1.3"/>
<text x="490.0" y="585.7" font-size="15.7" text-anchor="middle">40W</text>
<line x1="560.0" y1="92.5" x2="560.0" y2="77.5" stroke="#000" stroke-width="1.3"/>
<line x1="560.0" y1="547.5" x2="560.0" y2="562.5" stroke="#000" stroke-width="1.3"/>
<text x="560.0" y="585.7" font-size="15.7" text-anchor="middle">30W</text>
<line x1="630.0" y1="92.5" x2="630.0" y2="77.5" stroke="#000" stroke-width="1.3"/>
<line x1="630.0" y1="547.5" x2="630.0" y2="562.5" stroke="#000" stroke-width="1.3"/>
<text x="630.0" y="585.7" font-size="15.7" text-anchor="middle">20W</text>
<line x1="700.0" y1="92.5" x2="700.0" y2="77.5" stroke="#000" stroke-width="1.3"/>
<line x1="700.0" y1="547.5" x2="700.0" y2="562.5" stroke="#000" stroke-width="1.3"/>
<text x="700.0" y="585.7" font-size="15.7" text-anchor="middle">10W</text>
<line x1="770.0" y1="92.5" x2="770.0" y2="77.5" stroke="#000" stroke-width="1.3"/>
<line x1="770.0" y1="547.5" x2="770.0" y2="562.5" stroke="#000" stroke-width="1.3"/>
<text x="770.0" y="585.7" font-size="15.7" text-anchor="middle">0</text>
<line x1="70.0" y1="547.5" x2="55.0" y2="547.5" stroke="#000" stroke-width="1.3"/>
<line x1="770.0" y1="547.5" x2="785.0" y2="547.5" stroke="#000" stroke-width="1.3"/>
<text x="43.8" y="553.4" font-size="16" text-anchor="end">10S</text>
<line x1="70.0" y1="477.5" x2="55.0" y2="477.5" stroke="#000" stroke-width="1.3"/>
<line x1="770.0" y1="477.5" x2="785.0" y2="477.5" stroke="#000" stroke-width="1.3"/>
<text x="43.8" y="483.4" font-size="16" text-anchor="end">0</text>
<line x1="70.0" y1="407.5" x2="55.0" y2="407.5" stroke="#000" stroke-width="1.3"/>
<line x1="770.0" y1="407.5" x2="785.0" y2="407.5" stroke="#000" stroke-width="1.3"/>
<text x="43.8" y="413.4" font-size="16" text-anchor="end">10N</text>
<line x1="70.0" y1="337.5" x2="55.0" y2="337.5" stroke="#000" stroke-width="1.3"/>
<line x1="770.0" y1="337.5" x2="785.0" y2="337.5" stroke="#000" stroke-width="1.3"/>
<text x="43.8" y="343.4" font-size="16" text-anchor="end">20N</text>
<line x1="70.0" y1="267.5" x2="55.0" y2="267.5" stroke="#000" stroke-width="1.3"/>
<line x1="770.0" y1="267.5" x2="785.0" y2="267.5" stroke="#000" stroke-width="1.3"/>
<text x="43.8" y="273.4" font-size="16" text-anchor="end">30N</text>
<line x1="70.0" y1="197.5" x2="55.0" y2="197.5" stroke="#000" stroke-width="1.3"/>
<line x1="770.0" y1="197.5" x2="785.0" y2="197.5" stroke="#000" stroke-width="1.3"/>
<text x="43.8" y="203.4" font-size="16" text-anchor="end">40N</text>
<line x1="70.0" y1="127.5" x2="55.0" y2="127.5" stroke="#000" stroke-width="1.3"/>
<line x1="770.0" y1="127.5" x2="785.0" y2="127.5" stroke="#000" stroke-width="1.3"/>
<text x="43.8" y="133.4" font-size="16" text-anchor="end">50N</text>
<text x="420.2" y="75.3" font-size="20.47" font-weight="bold" text-anchor="middle">NWS National Hurricane Center (NCEP/NOAA)</text>
<text x="420" y="610" font-size="16.43" font-weight="bold" text-anchor="middle">Ocean Analysis - Reynolds Daily Sea Surface Temperature (C) - valid: 2026 - 03 - 23</text>
<rect x="111.50" y="627.5" width="19.28" height="40.0" fill="#00ccff" stroke="#222" stroke-width="0.6"/>
<rect x="130.78" y="627.5" width="19.28" height="40.0" fill="#00ffff" stroke="#222" stroke-width="0.6"/>
<rect x="150.06" y="627.5" width="19.28" height="40.0" fill="#26ffff" stroke="#222" stroke-width="0.6"/>
<rect x="169.34" y="627.5" width="19.28" height="40.0" fill="#40ffff" stroke="#222" stroke-width="0.6"/>
<rect x="188.62" y="627.5" width="19.28" height="40.0" fill="#66ffff" stroke="#222" stroke-width="0.6"/>
<rect x="207.91" y="627.5" width="19.28" height="40.0" fill="#99ffff" stroke="#222" stroke-width="0.6"/>
<rect x="227.19" y="627.5" width="19.28" height="40.0" fill="#80ffd9" stroke="#222" stroke-width="0.6"/>
<rect x="246.47" y="627.5" width="19.28" height="40.0" fill="#66ffb3" stroke="#222" stroke-width="0.6"/>
<rect x="265.75" y="627.5" width="19.28" height="40.0" fill="#4dff80" stroke="#222" stroke-width="0.6"/>
<rect x="285.03" y="627.5" width="19.28" height="40.0" fill="#1aff40" stroke="#222" stroke-width="0.6"/>
<rect x="304.31" y="627.5" width="19.28" height="40.0" fill="#00ff00" stroke="#222" stroke-width="0.6"/>
<rect x="323.59" y="627.5" width="19.28" height="40.0" fill="#33ff00" stroke="#222" stroke-width="0.6"/>
<rect x="342.88" y="627.5" width="19.28" height="40.0" fill="#66ff00" stroke="#222" stroke-width="0.6"/>
<rect x="362.16" y="627.5" width="19.28" height="40.0" fill="#99ff00" stroke="#222" stroke-width="0.6"/>
<rect x="381.44" y="627.5" width="19.28" height="40.0" fill="#b3ff00" stroke="#222" stroke-width="0.6"/>
<rect x="400.72" y="627.5" width="19.28" height="40.0" fill="#ccff00" stroke="#222" stroke-width="0.6"/>
<rect x="420.00" y="627.5" width="19.28" height="40.0" fill="#d4ff00" stroke="#222" stroke-width="0.6"/>
<rect x="439.28" y="627.5" width="19.28" height="40.0" fill="#e0ff00" stroke="#222" stroke-width="0.6"/>
<rect x="458.56" y="627.5" width="19.28" height="40.0" fill="#e8ff00" stroke="#222" stroke-width="0.6"/>
<rect x="477.84" y="627.5" width="19.28" height="40.0" fill="#f2ff00" stroke="#222" stroke-width="0.6"/>
<rect x="497.12" y="627.5" width="19.28" height="40.0" fill="#ffff00" stroke="#222" stroke-width="0.6"/>
<rect x="516.41" y="627.5" width="19.28" height="40.0" fill="#ffe800" stroke="#222" stroke-width="0.6"/>
<rect x="535.69" y="627.5" width="19.28" height="40.0" fill="#ffd500" stroke="#222" stroke-width="0.6"/>
<rect x="554.97" y="627.5" width="19.28" height="40.0" fill="#ffc000" stroke="#222" stroke-width="0.6"/>
<rect x="574.25" y="627.5" width="19.28" height="40.0" fill="#ffa800" stroke="#222" stroke-width="0.6"/>
<rect x="593.53" y="627.5" width="19.28" height="40.0" fill="#ff9d00" stroke="#222" stroke-width="0.6"/>
<rect x="612.81" y="627.5" width="19.28" height="40.0" fill="#ff8000" stroke="#222" stroke-width="0.6"/>
<rect x="632.09" y="627.5" width="19.28" height="40.0" fill="#ff6a00" stroke="#222" stroke-width="0.6"/>
<rect x="651.38" y="627.5" width="19.28" height="40.0" fill="#ff5900" stroke="#222" stroke-width="0.6"/>
<rect x="670.66" y="627.5" width="19.28" height="40.0" fill="#ff4d00" stroke="#222" stroke-width="0.6"/>
<rect x="689.94" y="627.5" width="19.28" height="40.0" fill="#ff2a00" stroke="#222" stroke-width="0.6"/>
<rect x="709.22" y="627.5" width="19.28" height="40.0" fill="#ff1a00" stroke="#222" stroke-width="0.6"/>
<text x="130.8" y="695" font-size="21" text-anchor="middle">5</text>
<text x="227.2" y="695" font-size="21" text-anchor="middle">10</text>
<text x="323.6" y="695" font-size="21" text-anchor="middle">15</text>
<text x="420.0" y="695" font-size="21" text-anchor="middle">20</text>
<text x="516.4" y="695" font-size="21" text-anchor="middle">25</text>
<text x="612.8" y="695" font-size="21" text-anchor="middle">30</text>
<text x="709.2" y="695" font-size="21" text-anchor="middle">35</text>
<text x="774.5" y="723.5" font-size="13.7" text-anchor="end">Data Source: National Climatic Data Center (NCDC/NOAA)</text>
<g id="noaa">
<defs>
<clipPath id="noaaclip"><ellipse cx="40.4" cy="39.5" rx="26.3" ry="25"/></clipPath>
<path id="noaatop" d="M 13.7 50.5 A 28.5 28.5 0 1 1 67.3 50.5"/>
<path id="noaabot" d="M 14.9 58.7 A 31.2 31.2 0 0 0 66.1 58.7"/>
</defs>
<ellipse cx="40.4" cy="39.5" rx="26.3" ry="25" fill="#1e96f0"/>
<g clip-path="url(#noaaclip)">
<path d="M 10 10 H 70 V 24 C 62 26 56 33 51 38 C 46 43 41 45 38 44.5 C 33 43 29 36 24 31 C 20 27 16 25 10 26 Z" fill="#14147d"/>
<path d="M 12 30.5 C 17 25.5 22 27 26 31 C 31 36 34 42 39 43.8 C 44 44.5 48 41 52 36.5 C 56 31.5 60 26.5 66 25 L 68 29 C 62 30.5 58.5 35 55 39 C 52 42.5 48 44 50.5 44.2 C 47 46 41 48 36 49.5 L 32.5 49.5 C 34 48.5 36 47.5 37.5 46.5 C 31 45 28 40 24 36 C 20 32.5 17 31.5 13 34 Z" fill="#fff"/>
</g>
<text x="39.8" y="32.6" font-size="9.2" font-weight="bold" fill="#fff" text-anchor="middle" textLength="21" lengthAdjust="spacingAndGlyphs">NOAA</text>
<text font-size="3.35" fill="#1a2a7a" font-weight="bold"><textPath href="#noaatop" startOffset="50%" text-anchor="middle">NATIONAL OCEANIC AND ATMOSPHERIC ADMINISTRATION</textPath></text>
<text font-size="3.5" fill="#1a2a7a" font-weight="bold"><textPath href="#noaabot" startOffset="50%" text-anchor="middle">U.S. DEPARTMENT OF COMMERCE</textPath></text>
<circle cx="63.3" cy="15.6" r="1.6" fill="none" stroke="#7a9a7a" stroke-width="0.7"/>
</g>
<g id="nws">
<defs>
<clipPath id="nwsclip"><circle cx="760.2" cy="40" r="18.4"/></clipPath>
<path id="nwstext" d="M 746.2 58.6 A 22.6 22.6 0 1 1 775.2 58.0"/>
</defs>
<circle cx="760.2" cy="40" r="18.4" fill="#35a5dc"/>
<g clip-path="url(#nwsclip)">
<path d="M 740 50 C 746 55 752 50 758 51.5 C 764 53 770 53.5 780 48 L 780 44 L 740 44 Z" fill="#fff"/>
<path d="M 752 23 L 754 30 M 760 22 L 760 29 M 768 24 L 766 30 M 746 27 L 750 32 M 773 28 L 770 33" stroke="#1a6ec8" stroke-width="1.6" fill="none"/>
</g>
<path d="M 740 43 C 738.5 40 740 37.5 742.5 37 C 742 34 745 32.5 748 33.5 C 750 30.5 755 29.5 758 31.5 C 761 27.5 768 27.5 771 31 C 775 30 778.5 33 777.5 36.5 C 782 37.5 781.5 42 778 43 C 779 46 775 48.5 771 47.5 C 769 50.5 764 51 761 49 C 757 51 752 50 750 47.5 C 746 48.5 741 47 740 43 Z" fill="#1515a0"/>
<path d="M 745.6 24.2 L 753 25.5 L 759.5 33.5 L 757.5 34 L 764.5 40 L 762.5 40.5 L 774.5 55 L 758.5 43 L 760.5 42.5 L 753.5 36.5 L 755.5 36 Z" fill="#fff" stroke="#2020a8" stroke-width="0.3"/>
<text font-size="7.4" fill="#e8262a" stroke="#e8262a" stroke-width="0.35" font-weight="bold" letter-spacing="0.1"><textPath href="#nwstext" startOffset="50%" text-anchor="middle">NATIONAL WEATHER SERVICE</textPath></text>
<circle cx="752.5" cy="65" r="0.9" fill="#2a2a9a"/><circle cx="767.3" cy="65" r="0.9" fill="#2a2a9a"/>
<path d="M 760 63.2 L 760.6 64.9 L 762.4 64.9 L 761 66 L 761.5 67.7 L 760 66.7 L 758.5 67.7 L 759 66 L 757.6 64.9 L 759.4 64.9 Z" fill="#e8262a"/>
</g>

</svg>
</body></html>
